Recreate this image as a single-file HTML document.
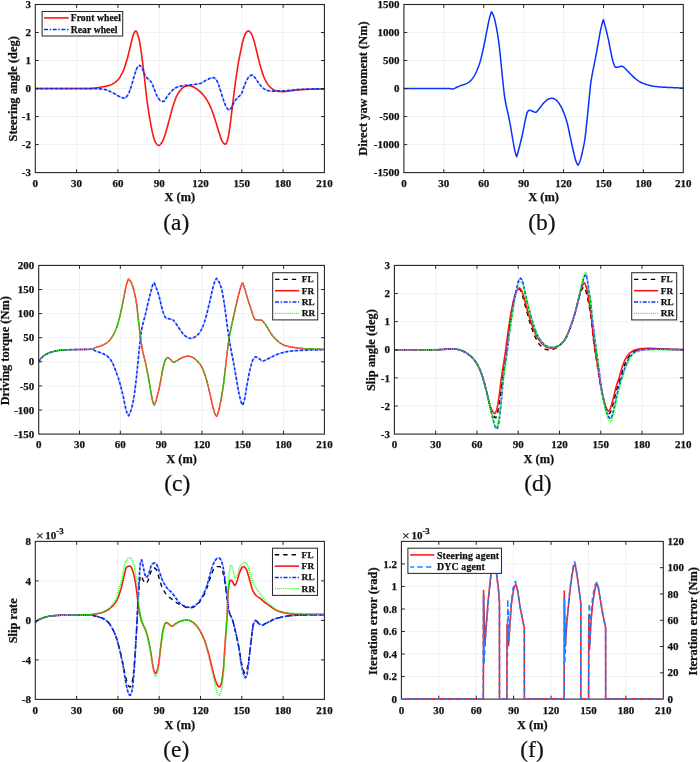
<!DOCTYPE html>
<html lang="en">
<head>
<meta charset="utf-8">
<title>Simulation results: steering angle, direct yaw moment, driving torque, slip angle, slip rate, iteration error</title>
<style>
html,body{margin:0;padding:0;background:#fff;}
body{width:700px;height:762px;overflow:hidden;}
svg{display:block;font-family:"Liberation Serif",serif;}
text{fill:#111;}
</style>
</head>
<body>
<svg width="700" height="762" viewBox="0 0 700 762">
<rect width="700" height="762" fill="#fff"/>
<path d="M76.6 4.5V172.6M117.9 4.5V172.6M159.2 4.5V172.6M200.5 4.5V172.6M241.8 4.5V172.6M283.1 4.5V172.6M35.3 144.58H324.4M35.3 116.57H324.4M35.3 88.55H324.4M35.3 60.53H324.4M35.3 32.52H324.4" stroke="#e8eded" stroke-width="0.7" fill="none"/>
<path d="M35.3 88.55L87.61 88.55L88.16 88.55L88.71 88.53L89.27 88.51L89.82 88.49L90.37 88.46L90.92 88.43L91.47 88.39L92.02 88.35L92.57 88.31L93.12 88.27L93.67 88.23L94.22 88.17L94.77 88.11L95.32 88.05L95.87 87.98L96.42 87.9L96.97 87.82L97.53 87.73L98.08 87.65L98.63 87.55L99.18 87.46L99.73 87.37L100.28 87.27L100.83 87.17L101.38 87.08L101.93 86.98L102.48 86.89L103.03 86.79L103.58 86.69L104.13 86.59L104.68 86.48L105.23 86.37L105.79 86.26L106.34 86.14L106.89 86.01L107.44 85.87L107.99 85.73L108.54 85.58L109.09 85.42L109.64 85.25L110.19 85.07L110.74 84.87L111.29 84.64L111.84 84.39L112.39 84.11L112.94 83.8L113.49 83.46L114.05 83.1L114.6 82.71L115.15 82.3L115.7 81.86L116.25 81.4L116.8 80.92L117.35 80.42L117.9 79.87L118.45 79.23L119 78.52L119.55 77.73L120.1 76.87L120.65 75.95L121.2 74.97L121.75 73.94L122.31 72.87L122.86 71.69L123.41 70.39L123.96 68.98L124.51 67.47L125.06 65.88L125.61 64.21L126.16 62.48L126.71 60.7L127.26 58.82L127.81 56.73L128.36 54.49L128.91 52.17L129.46 49.84L130.01 47.58L130.57 45.44L131.12 43.2L131.67 40.87L132.22 38.58L132.77 36.47L133.32 34.67L133.87 33.33L134.42 32.38L134.97 31.56L135.52 31.05L136.07 31.07L136.62 31.77L137.17 33.01L137.72 34.62L138.27 36.44L138.83 38.33L139.38 40.77L139.93 43.81L140.48 47.21L141.03 50.73L141.58 54.45L142.13 58.52L142.68 62.83L143.23 67.26L143.78 71.79L144.33 76.52L144.88 81.42L145.43 86.61L145.98 91.98L146.53 96.7L147.09 100.98L147.64 104.97L148.19 108.72L148.74 112.28L149.29 115.66L149.84 118.88L150.39 121.97L150.94 125L151.49 128L152.04 130.84L152.59 133.38L153.14 135.55L153.69 137.61L154.24 139.46L154.79 140.97L155.35 142L155.9 142.85L156.45 143.63L157 144.31L157.55 144.86L158.1 145.24L158.65 145.42L159.2 145.34L159.75 145.02L160.3 144.49L160.85 143.81L161.4 143.03L161.95 142.2L162.5 141.33L163.05 140.2L163.61 138.85L164.16 137.32L164.71 135.67L165.26 133.96L165.81 132.26L166.36 130.49L166.91 128.58L167.46 126.58L168.01 124.52L168.56 122.44L169.11 120.38L169.66 118.35L170.21 116.27L170.76 114.15L171.31 112.04L171.87 109.99L172.42 108.02L172.97 106.2L173.52 104.47L174.07 102.79L174.62 101.17L175.17 99.64L175.72 98.23L176.27 96.96L176.82 95.84L177.37 94.78L177.92 93.8L178.47 92.89L179.02 92.05L179.57 91.3L180.13 90.63L180.68 89.98L181.23 89.35L181.78 88.74L182.33 88.18L182.88 87.67L183.43 87.23L183.98 86.88L184.53 86.63L185.08 86.47L185.63 86.31L186.18 86.17L186.73 86.05L187.28 85.94L187.83 85.86L188.39 85.79L188.94 85.76L189.49 85.75L190.04 85.8L190.59 85.91L191.14 86.08L191.69 86.28L192.24 86.51L192.79 86.77L193.34 87.03L193.89 87.3L194.44 87.56L194.99 87.85L195.54 88.17L196.09 88.52L196.65 88.9L197.2 89.3L197.75 89.72L198.3 90.16L198.85 90.62L199.4 91.09L199.95 91.58L200.5 92.08L201.05 92.6L201.6 93.15L202.15 93.73L202.7 94.34L203.25 94.98L203.8 95.65L204.35 96.36L204.91 97.09L205.46 97.85L206.01 98.64L206.56 99.47L207.11 100.35L207.66 101.28L208.21 102.27L208.76 103.31L209.31 104.39L209.86 105.53L210.41 106.71L210.96 107.95L211.51 109.29L212.06 110.73L212.61 112.25L213.17 113.83L213.72 115.47L214.27 117.13L214.82 118.81L215.37 120.49L215.92 122.23L216.47 124.06L217.02 125.94L217.57 127.83L218.12 129.67L218.67 131.43L219.22 133.08L219.77 134.79L220.32 136.5L220.87 138.14L221.43 139.62L221.98 140.86L222.53 141.78L223.08 142.51L223.63 143.2L224.18 143.77L224.73 144.16L225.28 144.3L225.83 143.96L226.38 143.03L226.93 141.69L227.48 140.1L228.03 138.27L228.58 135.5L229.13 132.01L229.69 128.16L230.24 124.28L230.79 120.07L231.34 115.49L231.89 110.79L232.44 106.2L232.99 101.71L233.54 97.21L234.09 92.77L234.64 88.47L235.19 84.33L235.74 80.22L236.29 76.21L236.84 72.35L237.39 68.7L237.95 65.32L238.5 62.15L239.05 59.15L239.6 56.3L240.15 53.56L240.7 50.91L241.25 48.3L241.8 45.65L242.35 43.06L242.9 40.69L243.45 38.67L244 37.09L244.55 35.64L245.1 34.33L245.65 33.22L246.21 32.38L246.76 31.85L247.31 31.45L247.86 31.14L248.41 30.98L248.96 31.07L249.51 31.45L250.06 32.03L250.61 32.72L251.16 33.48L251.71 34.51L252.26 35.79L252.81 37.27L253.36 38.85L253.91 40.5L254.47 42.38L255.02 44.49L255.57 46.74L256.12 49.04L256.67 51.3L257.22 53.5L257.77 55.76L258.32 58.05L258.87 60.33L259.42 62.54L259.97 64.65L260.52 66.62L261.07 68.51L261.62 70.36L262.17 72.14L262.73 73.82L263.28 75.38L263.83 76.78L264.38 78.07L264.93 79.29L265.48 80.44L266.03 81.51L266.58 82.49L267.13 83.38L267.68 84.18L268.23 84.92L268.78 85.6L269.33 86.24L269.88 86.83L270.43 87.36L270.99 87.85L271.54 88.31L272.09 88.75L272.64 89.16L273.19 89.53L273.74 89.86L274.29 90.12L274.84 90.33L275.39 90.51L275.94 90.68L276.49 90.83L277.04 90.97L277.59 91.09L278.14 91.2L278.69 91.28L279.25 91.35L279.8 91.41L280.35 91.47L280.9 91.52L281.45 91.57L282 91.6L282.55 91.62L283.1 91.63L283.65 91.62L284.2 91.59L284.75 91.55L285.3 91.49L285.85 91.43L286.4 91.35L286.95 91.28L287.51 91.21L288.06 91.14L288.61 91.07L289.16 91.01L289.71 90.95L290.26 90.88L290.81 90.81L291.36 90.74L291.91 90.67L292.46 90.6L293.01 90.53L293.56 90.46L294.11 90.39L294.66 90.32L295.21 90.26L295.77 90.19L296.32 90.13L296.87 90.07L297.42 90.02L297.97 89.97L298.52 89.93L299.07 89.89L299.62 89.84L300.17 89.8L300.72 89.76L301.27 89.72L301.82 89.68L302.37 89.64L302.92 89.61L303.47 89.57L304.03 89.54L304.58 89.5L305.13 89.47L305.68 89.44L306.23 89.41L306.78 89.38L307.33 89.36L307.88 89.33L308.43 89.31L308.98 89.29L309.53 89.27L310.08 89.25L310.63 89.23L311.18 89.22L311.73 89.2L312.29 89.19L312.84 89.17L313.39 89.15L313.94 89.14L314.49 89.12L315.04 89.11L315.59 89.1L316.14 89.08L316.69 89.07L317.24 89.06L317.79 89.05L318.34 89.03L318.89 89.02L319.44 89.01L319.99 89.01L320.55 89L321.1 88.99L321.65 88.98L322.2 88.98L324.4 88.97" stroke="#ff1414" stroke-width="1.6" fill="none" stroke-linejoin="round"/>
<path d="M35.3 88.55L91.47 88.55L92.02 88.56L92.57 88.57L93.12 88.58L93.67 88.59L94.22 88.6L94.77 88.61L95.32 88.63L95.87 88.65L96.42 88.66L96.97 88.68L97.53 88.7L98.08 88.73L98.63 88.76L99.18 88.8L99.73 88.84L100.28 88.89L100.83 88.95L101.38 89.01L101.93 89.08L102.48 89.15L103.03 89.23L103.58 89.31L104.13 89.4L104.68 89.5L105.23 89.59L105.79 89.7L106.34 89.83L106.89 89.99L107.44 90.19L107.99 90.41L108.54 90.65L109.09 90.92L109.64 91.19L110.19 91.47L110.74 91.76L111.29 92.05L111.84 92.34L112.39 92.62L112.94 92.89L113.49 93.18L114.05 93.48L114.6 93.8L115.15 94.13L115.7 94.46L116.25 94.79L116.8 95.12L117.35 95.44L117.9 95.74L118.45 96.04L119 96.31L119.55 96.56L120.1 96.79L120.65 97.03L121.2 97.27L121.75 97.51L122.31 97.74L122.86 97.93L123.41 98.08L123.96 98.18L124.51 98.22L125.06 98.08L125.61 97.72L126.16 97.16L126.71 96.47L127.26 95.68L127.81 94.85L128.36 93.98L128.91 92.86L129.46 91.51L130.01 90L130.57 88.37L131.12 86.69L131.67 85.02L132.22 83.26L132.77 81.32L133.32 79.29L133.87 77.26L134.42 75.32L134.97 73.55L135.52 71.92L136.07 70.28L136.62 68.8L137.17 67.65L137.72 66.94L138.27 66.35L138.83 65.86L139.38 65.53L139.93 65.41L140.48 65.67L141.03 66.34L141.58 67.25L142.13 68.25L142.68 69.36L143.23 70.84L143.78 72.43L144.33 73.85L144.88 74.87L145.43 75.73L145.98 76.5L146.53 77.2L147.09 77.85L147.64 78.48L148.19 79.11L148.74 79.69L149.29 80.2L149.84 80.68L150.39 81.18L150.94 81.76L151.49 82.47L152.04 83.43L152.59 84.78L153.14 86.32L153.69 87.85L154.24 89.23L154.79 90.62L155.35 92.03L155.9 93.4L156.45 94.69L157 95.84L157.55 96.81L158.1 97.68L158.65 98.53L159.2 99.32L159.75 100.01L160.3 100.57L160.85 100.94L161.4 101.12L161.95 101.25L162.5 101.36L163.05 101.42L163.61 101.42L164.16 101.13L164.71 100.52L165.26 99.7L165.81 98.77L166.36 97.84L166.91 97L167.46 96.28L168.01 95.54L168.56 94.78L169.11 94.03L169.66 93.29L170.21 92.58L170.76 91.92L171.31 91.31L171.87 90.78L172.42 90.27L172.97 89.79L173.52 89.33L174.07 88.9L174.62 88.49L175.17 88.12L175.72 87.79L176.27 87.5L176.82 87.24L177.37 87L177.92 86.77L178.47 86.58L179.02 86.4L179.57 86.26L180.13 86.14L180.68 86.04L181.23 85.94L181.78 85.86L182.33 85.78L182.88 85.71L183.43 85.64L183.98 85.57L184.53 85.51L185.08 85.45L185.63 85.39L186.18 85.33L186.73 85.27L187.28 85.21L187.83 85.16L188.39 85.1L188.94 85.05L189.49 85L190.04 84.96L190.59 84.91L191.14 84.86L191.69 84.81L192.24 84.76L192.79 84.7L193.34 84.64L193.89 84.58L194.44 84.51L194.99 84.43L195.54 84.36L196.09 84.28L196.65 84.19L197.2 84.1L197.75 84L198.3 83.89L198.85 83.78L199.4 83.65L199.95 83.52L200.5 83.37L201.05 83.18L201.6 82.93L202.15 82.65L202.7 82.32L203.25 81.97L203.8 81.61L204.35 81.25L204.91 80.91L205.46 80.58L206.01 80.29L206.56 80.01L207.11 79.72L207.66 79.43L208.21 79.15L208.76 78.88L209.31 78.64L209.86 78.43L210.41 78.25L210.96 78.12L211.51 77.99L212.06 77.87L212.61 77.78L213.17 77.72L213.72 77.72L214.27 77.89L214.82 78.27L215.37 78.8L215.92 79.43L216.47 80.11L217.02 80.92L217.57 82.07L218.12 83.49L218.67 85.09L219.22 86.77L219.77 88.46L220.32 90.07L220.87 91.73L221.43 93.48L221.98 95.26L222.53 97.03L223.08 98.73L223.63 100.32L224.18 101.87L224.73 103.43L225.28 104.91L225.83 106.22L226.38 107.26L226.93 108.04L227.48 108.79L228.03 109.43L228.58 109.87L229.13 110.04L229.69 109.81L230.24 109.2L230.79 108.34L231.34 107.37L231.89 106.42L232.44 105.5L232.99 104.43L233.54 103.3L234.09 102.21L234.64 101.25L235.19 100.48L235.74 99.79L236.29 99.15L236.84 98.56L237.39 97.97L237.95 97.37L238.5 96.82L239.05 96.32L239.6 95.83L240.15 95.3L240.7 94.68L241.25 93.94L241.8 92.93L242.35 91.47L242.9 89.8L243.45 88.16L244 86.73L244.55 85.3L245.1 83.86L245.65 82.48L246.21 81.19L246.76 80.05L247.31 79.11L247.86 78.3L248.41 77.52L248.96 76.83L249.51 76.24L250.06 75.8L250.61 75.52L251.16 75.32L251.71 75.16L252.26 75.1L252.81 75.27L253.36 75.71L253.91 76.33L254.47 77.04L255.02 77.74L255.57 78.41L256.12 79.18L256.67 80.02L257.22 80.89L257.77 81.77L258.32 82.63L258.87 83.42L259.42 84.14L259.97 84.85L260.52 85.54L261.07 86.21L261.62 86.82L262.17 87.38L262.73 87.85L263.28 88.26L263.83 88.65L264.38 89.01L264.93 89.33L265.48 89.61L266.03 89.85L266.58 90.05L267.13 90.24L267.68 90.42L268.23 90.6L268.78 90.75L269.33 90.88L269.88 90.98L270.43 91.05L270.99 91.07L277.59 91.07L278.14 91.06L278.69 91.05L279.25 91.04L279.8 91.02L280.35 91.01L280.9 90.99L281.45 90.97L282 90.95L282.55 90.93L283.1 90.9L283.65 90.88L284.2 90.85L284.75 90.81L285.3 90.77L285.85 90.72L286.4 90.67L286.95 90.62L287.51 90.56L288.06 90.5L288.61 90.44L289.16 90.38L289.71 90.32L290.26 90.26L290.81 90.2L291.36 90.14L291.91 90.09L292.46 90.04L293.01 89.99L293.56 89.94L294.11 89.89L294.66 89.85L295.21 89.8L295.77 89.75L296.32 89.7L296.87 89.65L297.42 89.61L297.97 89.56L298.52 89.52L299.07 89.47L299.62 89.43L300.17 89.39L300.72 89.36L301.27 89.32L301.82 89.3L302.37 89.27L302.92 89.25L303.47 89.23L304.03 89.21L304.58 89.2L305.13 89.18L305.68 89.16L306.23 89.14L306.78 89.13L307.33 89.11L307.88 89.1L308.43 89.08L308.98 89.06L309.53 89.05L310.08 89.04L310.63 89.02L311.18 89.01L311.73 88.99L312.29 88.98L312.84 88.97L313.39 88.96L313.94 88.94L314.49 88.93L315.04 88.92L315.59 88.91L316.14 88.9L316.69 88.89L317.24 88.89L317.79 88.88L318.34 88.87L318.89 88.86L319.44 88.86L319.99 88.85L320.55 88.85L321.1 88.84L324.4 88.83" stroke="#0a32ff" stroke-width="1.7" fill="none" stroke-linejoin="round" stroke-dasharray="3.1 0.7 0.4 0.7"/>
<path d="M76.6 172.6v-3.4M76.6 4.5v3.4M117.9 172.6v-3.4M117.9 4.5v3.4M159.2 172.6v-3.4M159.2 4.5v3.4M200.5 172.6v-3.4M200.5 4.5v3.4M241.8 172.6v-3.4M241.8 4.5v3.4M283.1 172.6v-3.4M283.1 4.5v3.4M35.3 144.58h3.4M324.4 144.58h-3.4M35.3 116.57h3.4M324.4 116.57h-3.4M35.3 88.55h3.4M324.4 88.55h-3.4M35.3 60.53h3.4M324.4 60.53h-3.4M35.3 32.52h3.4M324.4 32.52h-3.4" stroke="#262626" stroke-width="1" fill="none"/>
<rect x="35.3" y="4.5" width="289.1" height="168.1" fill="none" stroke="#262626" stroke-width="1.1"/>
<text x="35.3" y="187.2" font-size="11" text-anchor="middle" font-weight="bold" stroke="#111" stroke-width="0.25">0</text>
<text x="76.6" y="187.2" font-size="11" text-anchor="middle" font-weight="bold" stroke="#111" stroke-width="0.25">30</text>
<text x="117.9" y="187.2" font-size="11" text-anchor="middle" font-weight="bold" stroke="#111" stroke-width="0.25">60</text>
<text x="159.2" y="187.2" font-size="11" text-anchor="middle" font-weight="bold" stroke="#111" stroke-width="0.25">90</text>
<text x="200.5" y="187.2" font-size="11" text-anchor="middle" font-weight="bold" stroke="#111" stroke-width="0.25">120</text>
<text x="241.8" y="187.2" font-size="11" text-anchor="middle" font-weight="bold" stroke="#111" stroke-width="0.25">150</text>
<text x="283.1" y="187.2" font-size="11" text-anchor="middle" font-weight="bold" stroke="#111" stroke-width="0.25">180</text>
<text x="324.4" y="187.2" font-size="11" text-anchor="middle" font-weight="bold" stroke="#111" stroke-width="0.25">210</text>
<text x="30.9" y="176.23" font-size="11" text-anchor="end" font-weight="bold" stroke="#111" stroke-width="0.25">-3</text>
<text x="30.9" y="148.21" font-size="11" text-anchor="end" font-weight="bold" stroke="#111" stroke-width="0.25">-2</text>
<text x="30.9" y="120.2" font-size="11" text-anchor="end" font-weight="bold" stroke="#111" stroke-width="0.25">-1</text>
<text x="30.9" y="92.18" font-size="11" text-anchor="end" font-weight="bold" stroke="#111" stroke-width="0.25">0</text>
<text x="30.9" y="64.16" font-size="11" text-anchor="end" font-weight="bold" stroke="#111" stroke-width="0.25">1</text>
<text x="30.9" y="36.15" font-size="11" text-anchor="end" font-weight="bold" stroke="#111" stroke-width="0.25">2</text>
<text x="30.9" y="8.13" font-size="11" text-anchor="end" font-weight="bold" stroke="#111" stroke-width="0.25">3</text>
<text x="179.85" y="201.3" font-size="12.4" text-anchor="middle" font-weight="bold" stroke="#111" stroke-width="0.25">X (m)</text>
<text x="17.1" y="88.85" font-size="12.4" text-anchor="middle" font-weight="bold" stroke="#111" stroke-width="0.25" transform="rotate(-90 17.1 88.85)">Steering angle (deg)</text>
<text x="176.3" y="229.9" font-size="23.5" text-anchor="middle" stroke="#111" stroke-width="0.2">(a)</text>
<rect x="42.1" y="11.5" width="80.6" height="24.5" fill="#fff" stroke="#2c2c2c" stroke-width="1.05"/>
<path d="M44 17.9H68.7" stroke="#ff1414" stroke-width="1.6"/>
<text x="70.7" y="21.1" font-size="9.6" text-anchor="start" font-weight="bold" stroke="#111" stroke-width="0.25" letter-spacing="0.1">Front wheel</text>
<path d="M44 29.6H68.7" stroke="#0a32ff" stroke-width="1.5" stroke-dasharray="4 1.6 1.5 1.6"/>
<text x="70.7" y="32.7" font-size="9.6" text-anchor="start" font-weight="bold" stroke="#111" stroke-width="0.25" letter-spacing="0.1">Rear wheel</text>
<path d="M443.81 4.5V172.6M483.73 4.5V172.6M523.64 4.5V172.6M563.56 4.5V172.6M603.47 4.5V172.6M643.39 4.5V172.6M403.9 144.58H683.3M403.9 116.57H683.3M403.9 88.55H683.3M403.9 60.53H683.3M403.9 32.52H683.3" stroke="#e8eded" stroke-width="0.7" fill="none"/>
<path d="M403.9 88.55L449.27 88.55L449.81 88.59L450.34 88.66L450.88 88.75L451.41 88.85L451.94 88.93L452.48 88.98L453.01 88.99L453.54 88.89L454.08 88.68L454.61 88.4L455.15 88.09L455.68 87.77L456.21 87.48L456.75 87.25L457.28 87.02L457.82 86.79L458.35 86.57L458.88 86.34L459.42 86.13L459.95 85.91L460.48 85.7L461.02 85.5L461.55 85.31L462.09 85.14L462.62 84.97L463.15 84.81L463.69 84.65L464.22 84.48L464.75 84.3L465.29 84.1L465.82 83.88L466.36 83.63L466.89 83.36L467.42 83.06L467.96 82.73L468.49 82.38L469.03 82.01L469.56 81.6L470.09 81.16L470.63 80.7L471.16 80.17L471.69 79.57L472.23 78.9L472.76 78.17L473.3 77.39L473.83 76.57L474.36 75.7L474.9 74.75L475.43 73.72L475.96 72.62L476.5 71.44L477.03 70.21L477.57 68.92L478.1 67.58L478.63 66.16L479.17 64.63L479.7 63.01L480.24 61.28L480.77 59.42L481.3 57.38L481.84 55.17L482.37 52.84L482.9 50.43L483.44 47.98L483.97 45.48L484.51 42.86L485.04 40.14L485.57 37.39L486.11 34.65L486.64 31.97L487.17 29.27L487.71 26.5L488.24 23.76L488.78 21.16L489.31 18.8L489.84 16.76L490.38 14.93L490.91 13.28L491.45 11.84L491.98 12.46L492.52 13.39L493.06 14.56L493.6 15.9L494.13 17.42L494.67 19.39L495.21 21.73L495.75 24.29L496.29 26.93L496.82 29.75L497.36 32.81L497.9 36.15L498.44 39.77L498.98 43.85L499.51 48.46L500.05 53.42L500.59 58.54L501.13 63.71L501.66 69.22L502.2 74.83L502.74 80.18L503.28 85.32L503.82 90.34L504.35 94.87L504.89 98.58L505.43 101.71L505.97 104.51L506.51 107.11L507.04 109.45L507.58 111.71L508.12 114.02L508.66 116.55L509.19 119.23L509.73 122.03L510.27 124.92L510.81 127.89L511.35 131.03L511.88 134.32L512.42 137.6L512.96 140.72L513.5 143.65L514.04 146.58L514.57 149.37L515.11 151.84L515.65 153.85L516.19 155.46L516.72 156.74L517.26 154.91L517.79 153.02L518.32 151.07L518.86 149.07L519.39 147.01L519.92 144.9L520.46 142.74L520.99 140.51L521.52 138.21L522.06 135.85L522.59 133.43L523.12 130.96L523.66 128.35L524.19 125.62L524.72 122.91L525.26 120.35L525.79 117.99L526.32 115.56L526.86 113.44L527.39 112.1L527.92 111.31L528.46 110.69L528.99 110.33L529.52 110.3L530.06 110.38L530.59 110.51L531.12 110.68L531.66 110.85L532.19 111.02L532.72 111.24L533.26 111.5L533.79 111.78L534.32 112.04L534.86 112.24L535.39 112.35L535.92 112.31L536.46 112.01L536.99 111.5L537.52 110.84L538.06 110.11L538.59 109.38L539.12 108.71L539.66 108.09L540.19 107.43L540.73 106.75L541.26 106.04L541.79 105.33L542.33 104.63L542.86 103.95L543.39 103.31L543.93 102.72L544.46 102.18L544.99 101.71L545.53 101.24L546.06 100.78L546.59 100.34L547.13 99.92L547.66 99.54L548.19 99.21L548.73 98.95L549.26 98.75L549.79 98.61L550.33 98.49L550.86 98.38L551.39 98.3L551.93 98.25L552.46 98.25L552.99 98.34L553.53 98.51L554.06 98.75L554.59 99.04L555.13 99.38L555.66 99.76L556.19 100.14L556.73 100.55L557.26 101.05L557.79 101.67L558.33 102.37L558.86 103.14L559.39 103.96L559.93 104.8L560.46 105.68L560.99 106.62L561.53 107.65L562.06 108.74L562.59 109.9L563.13 111.11L563.66 112.39L564.19 113.73L564.73 115.15L565.26 116.65L565.79 118.25L566.33 119.95L566.86 121.76L567.39 123.7L567.93 125.9L568.46 128.31L568.99 130.87L569.53 133.5L570.06 136.11L570.59 138.64L571.13 141.06L571.66 143.52L572.19 145.97L572.73 148.4L573.26 150.75L573.79 152.99L574.33 155.1L574.86 157.2L575.39 159.25L575.93 161.1L576.46 162.6L576.99 163.71L577.53 164.62L578.06 165.26L578.6 164.38L579.14 163.26L579.67 161.95L580.21 160.49L580.75 158.76L581.29 156.72L581.82 154.46L582.36 152.08L582.9 149.65L583.44 147.14L583.98 144.42L584.51 141.39L585.05 137.9L585.59 133.64L586.13 128.79L586.66 123.62L587.2 118.43L587.74 113.14L588.28 107.6L588.82 102.06L589.35 96.67L589.89 91.14L590.43 85.95L590.97 81.7L591.51 78.28L592.04 75.27L592.58 72.38L593.12 69.66L593.66 67.08L594.19 64.53L594.73 61.89L595.27 59.1L595.81 56.23L596.35 53.31L596.88 50.36L597.42 47.41L597.96 44.49L598.5 41.48L599.04 38.38L599.57 35.32L600.11 32.39L600.65 29.7L601.19 27.33L601.72 25.15L602.26 23.13L602.8 21.28L603.34 19.63L603.87 21.46L604.4 23.36L604.94 25.33L605.47 27.35L606 29.44L606.54 31.58L607.07 33.79L607.6 36.06L608.14 38.41L608.67 40.86L609.2 43.51L609.74 46.31L610.27 49.14L610.8 51.87L611.33 54.37L611.87 56.76L612.4 59.12L612.93 61.28L613.47 63.09L614 64.52L614.53 65.87L615.07 66.92L615.6 67.31L616.13 67.3L616.67 67.27L617.2 67.22L617.73 67.17L618.26 67.1L618.8 67L619.33 66.81L619.86 66.58L620.4 66.36L620.93 66.2L621.46 66.14L622 66.24L622.53 66.48L623.06 66.8L623.6 67.16L624.13 67.52L624.66 67.96L625.19 68.47L625.73 69.03L626.26 69.61L626.79 70.19L627.33 70.75L627.86 71.29L628.39 71.83L628.93 72.38L629.46 72.93L629.99 73.48L630.53 74.02L631.06 74.56L631.59 75.08L632.12 75.6L632.66 76.1L633.19 76.61L633.72 77.12L634.26 77.61L634.79 78.1L635.32 78.57L635.86 79.02L636.39 79.45L636.92 79.85L637.46 80.23L637.99 80.6L638.52 80.95L639.05 81.3L639.59 81.62L640.12 81.93L640.65 82.23L641.19 82.5L641.72 82.76L642.25 83L642.79 83.24L643.32 83.46L643.85 83.67L644.39 83.87L644.92 84.06L645.45 84.24L645.98 84.42L646.52 84.58L647.05 84.73L647.58 84.89L648.12 85.04L648.65 85.18L649.18 85.33L649.72 85.46L650.25 85.59L650.78 85.71L651.32 85.83L651.85 85.94L652.38 86.04L652.91 86.13L653.45 86.21L653.98 86.28L654.51 86.36L655.05 86.42L655.58 86.49L656.11 86.55L656.65 86.62L657.18 86.67L657.71 86.73L658.25 86.78L658.78 86.83L659.31 86.88L659.84 86.93L660.38 86.97L660.91 87.01L661.44 87.06L661.98 87.09L662.51 87.13L663.04 87.16L663.58 87.2L664.11 87.23L664.64 87.26L665.18 87.28L665.71 87.31L666.24 87.34L666.77 87.36L667.31 87.38L667.84 87.41L668.37 87.43L668.91 87.45L669.44 87.48L669.97 87.5L670.51 87.52L671.04 87.54L671.57 87.57L672.11 87.59L672.64 87.62L673.17 87.64L673.7 87.66L674.24 87.69L674.77 87.71L675.3 87.74L675.84 87.76L676.37 87.79L676.9 87.81L677.44 87.84L677.97 87.86L678.5 87.89L679.04 87.91L679.57 87.93L680.1 87.96L680.63 87.98L681.17 88.01L681.7 88.03L682.23 88.05L682.77 88.08L683.3 88.1" stroke="#0a32ff" stroke-width="1.5" fill="none" stroke-linejoin="round"/>
<path d="M443.81 172.6v-3.4M443.81 4.5v3.4M483.73 172.6v-3.4M483.73 4.5v3.4M523.64 172.6v-3.4M523.64 4.5v3.4M563.56 172.6v-3.4M563.56 4.5v3.4M603.47 172.6v-3.4M603.47 4.5v3.4M643.39 172.6v-3.4M643.39 4.5v3.4M403.9 144.58h3.4M683.3 144.58h-3.4M403.9 116.57h3.4M683.3 116.57h-3.4M403.9 88.55h3.4M683.3 88.55h-3.4M403.9 60.53h3.4M683.3 60.53h-3.4M403.9 32.52h3.4M683.3 32.52h-3.4" stroke="#262626" stroke-width="1" fill="none"/>
<rect x="403.9" y="4.5" width="279.4" height="168.1" fill="none" stroke="#262626" stroke-width="1.1"/>
<text x="403.9" y="187.2" font-size="11" text-anchor="middle" font-weight="bold" stroke="#111" stroke-width="0.25">0</text>
<text x="443.81" y="187.2" font-size="11" text-anchor="middle" font-weight="bold" stroke="#111" stroke-width="0.25">30</text>
<text x="483.73" y="187.2" font-size="11" text-anchor="middle" font-weight="bold" stroke="#111" stroke-width="0.25">60</text>
<text x="523.64" y="187.2" font-size="11" text-anchor="middle" font-weight="bold" stroke="#111" stroke-width="0.25">90</text>
<text x="563.56" y="187.2" font-size="11" text-anchor="middle" font-weight="bold" stroke="#111" stroke-width="0.25">120</text>
<text x="603.47" y="187.2" font-size="11" text-anchor="middle" font-weight="bold" stroke="#111" stroke-width="0.25">150</text>
<text x="643.39" y="187.2" font-size="11" text-anchor="middle" font-weight="bold" stroke="#111" stroke-width="0.25">180</text>
<text x="683.3" y="187.2" font-size="11" text-anchor="middle" font-weight="bold" stroke="#111" stroke-width="0.25">210</text>
<text x="399.5" y="176.23" font-size="11" text-anchor="end" font-weight="bold" stroke="#111" stroke-width="0.25">-1500</text>
<text x="399.5" y="148.21" font-size="11" text-anchor="end" font-weight="bold" stroke="#111" stroke-width="0.25">-1000</text>
<text x="399.5" y="120.2" font-size="11" text-anchor="end" font-weight="bold" stroke="#111" stroke-width="0.25">-500</text>
<text x="399.5" y="92.18" font-size="11" text-anchor="end" font-weight="bold" stroke="#111" stroke-width="0.25">0</text>
<text x="399.5" y="64.16" font-size="11" text-anchor="end" font-weight="bold" stroke="#111" stroke-width="0.25">500</text>
<text x="399.5" y="36.15" font-size="11" text-anchor="end" font-weight="bold" stroke="#111" stroke-width="0.25">1000</text>
<text x="399.5" y="8.13" font-size="11" text-anchor="end" font-weight="bold" stroke="#111" stroke-width="0.25">1500</text>
<text x="543.6" y="201.3" font-size="12.4" text-anchor="middle" font-weight="bold" stroke="#111" stroke-width="0.25">X (m)</text>
<text x="367.3" y="88.55" font-size="12.4" text-anchor="middle" font-weight="bold" stroke="#111" stroke-width="0.25" transform="rotate(-90 367.3 88.55)">Direct yaw moment (Nm)</text>
<text x="542" y="229.9" font-size="23.5" text-anchor="middle" stroke="#111" stroke-width="0.2">(b)</text>
<path d="M79.51 265.4V434.1M120.33 265.4V434.1M161.14 265.4V434.1M201.96 265.4V434.1M242.77 265.4V434.1M283.59 265.4V434.1M38.7 410H324.4M38.7 385.9H324.4M38.7 361.8H324.4M38.7 337.7H324.4M38.7 313.6H324.4M38.7 289.5H324.4" stroke="#e8eded" stroke-width="0.7" fill="none"/>
<path d="M38.7 361.8L39.24 360.91L39.79 360.07L40.33 359.27L40.88 358.54L41.42 357.89L41.97 357.33L42.51 356.83L43.05 356.36L43.6 355.92L44.14 355.51L44.69 355.14L45.23 354.78L45.77 354.46L46.32 354.16L46.86 353.88L47.41 353.62L47.95 353.37L48.5 353.13L49.04 352.91L49.58 352.71L50.13 352.51L50.67 352.33L51.22 352.16L51.76 351.99L52.3 351.83L52.85 351.67L53.39 351.52L53.94 351.36L54.48 351.22L55.03 351.08L55.57 350.95L56.11 350.84L56.66 350.73L57.2 350.63L57.75 350.54L58.29 350.47L58.84 350.41L59.38 350.35L59.92 350.29L60.47 350.24L61.01 350.18L61.56 350.13L62.1 350.09L62.64 350.04L63.19 350L63.73 349.96L64.28 349.92L64.82 349.89L65.37 349.86L65.91 349.83L66.45 349.8L67 349.78L67.54 349.76L68.09 349.74L68.63 349.72L69.17 349.71L69.72 349.69L70.26 349.68L70.81 349.67L71.35 349.66L71.9 349.64L72.44 349.63L72.98 349.62L73.53 349.61L74.07 349.6L74.62 349.59L75.16 349.59L75.7 349.58L76.25 349.57L76.79 349.56L77.34 349.55L77.88 349.54L78.43 349.53L78.97 349.52L79.51 349.51L80.06 349.5L80.6 349.49L81.15 349.48L81.69 349.47L82.24 349.47L82.78 349.46L83.32 349.45L83.87 349.44L84.41 349.44L84.96 349.43L85.5 349.42L86.04 349.41L86.59 349.41L87.13 349.4L87.68 349.38L88.22 349.37L88.77 349.36L89.31 349.34L89.85 349.33L90.4 349.31L90.94 349.29L91.49 349.26L92.03 349.17L92.57 349L93.12 348.78L93.66 348.52L94.21 348.24L94.75 347.95L95.3 347.68L95.84 347.44L96.38 347.25L96.93 347.08L97.47 346.92L98.02 346.77L98.56 346.62L99.11 346.47L99.65 346.31L100.19 346.13L100.74 345.94L101.28 345.73L101.83 345.51L102.37 345.26L102.91 345L103.46 344.72L104 344.43L104.55 344.13L105.09 343.81L105.64 343.48L106.18 343.14L106.72 342.78L107.27 342.4L107.81 341.99L108.36 341.54L108.9 341.05L109.44 340.5L109.99 339.87L110.53 339.16L111.08 338.38L111.62 337.55L112.17 336.67L112.71 335.77L113.25 334.84L113.8 333.86L114.34 332.81L114.89 331.7L115.43 330.5L115.98 329.22L116.52 327.83L117.06 326.28L117.61 324.58L118.15 322.75L118.7 320.81L119.24 318.78L119.78 316.68L120.33 314.45L120.87 312.02L121.42 309.45L121.96 306.79L122.51 304.1L123.05 301.42L123.59 298.76L124.14 295.91L124.68 292.98L125.23 290.12L125.77 287.47L126.31 285.18L126.86 283.29L127.4 281.6L127.95 280.12L128.49 278.9L129.04 279.3L129.59 279.92L130.14 280.69L130.69 281.59L131.24 282.58L131.79 283.82L132.34 285.32L132.89 287.04L133.44 288.92L133.99 290.92L134.54 293.08L135.09 295.51L135.64 298.25L136.19 301.34L136.74 305.04L137.29 309.72L137.84 314.85L138.39 319.82L138.94 324.79L139.49 329.73L140.04 334.34L140.59 338.64L141.14 342.41L141.69 345.74L142.24 348.78L142.79 351.57L143.34 354.1L143.89 356.37L144.44 358.49L144.99 360.63L145.54 362.9L146.09 365.43L146.64 368.15L147.19 371L147.74 373.94L148.29 376.92L148.84 380.04L149.39 383.24L149.94 386.44L150.49 389.53L151.04 392.67L151.59 395.91L152.14 398.91L152.69 401.3L153.24 402.96L153.79 404.3L154.34 405.18L154.89 403.83L155.43 402.32L155.98 400.68L156.53 398.91L157.07 396.97L157.62 394.87L158.17 392.62L158.71 390.27L159.26 387.78L159.81 385.09L160.35 382.28L160.9 379.44L161.45 376.58L161.99 373.5L162.54 370.43L163.09 367.67L163.63 365.49L164.18 363.57L164.73 361.85L165.27 360.4L165.82 359.33L166.37 358.54L166.91 357.88L167.46 357.56L168 357.64L168.55 357.91L169.1 358.32L169.64 358.8L170.19 359.29L170.74 359.74L171.28 360.26L171.83 360.89L172.38 361.5L172.92 361.99L173.47 362.26L174.02 362.25L174.56 362.1L175.11 361.85L175.66 361.55L176.2 361.24L176.75 360.95L177.3 360.61L177.84 360.22L178.39 359.82L178.94 359.42L179.48 359.05L180.03 358.73L180.58 358.45L181.12 358.19L181.67 357.94L182.22 357.7L182.76 357.47L183.31 357.27L183.86 357.08L184.4 356.91L184.95 356.76L185.5 356.61L186.04 356.46L186.59 356.32L187.14 356.21L187.68 356.14L188.23 356.11L188.77 356.14L189.32 356.22L189.87 356.35L190.41 356.51L190.96 356.7L191.51 356.92L192.05 357.15L192.6 357.39L193.15 357.64L193.69 357.94L194.24 358.3L194.79 358.71L195.33 359.17L195.88 359.67L196.43 360.2L196.97 360.76L197.52 361.33L198.07 361.91L198.61 362.53L199.16 363.2L199.71 363.92L200.25 364.69L200.8 365.52L201.35 366.41L201.89 367.37L202.44 368.43L202.99 369.62L203.53 370.95L204.08 372.38L204.63 373.9L205.17 375.51L205.72 377.18L206.27 378.93L206.81 380.85L207.36 382.94L207.91 385.15L208.45 387.43L209 389.74L209.54 392.04L210.09 394.38L210.64 396.86L211.18 399.38L211.73 401.88L212.28 404.29L212.82 406.51L213.37 408.53L213.92 410.54L214.46 412.41L215.01 413.97L215.56 415.03L216.1 415.8L216.65 416.27L217.2 415.14L217.76 413.7L218.31 412.02L218.86 410.09L219.41 407.71L219.97 405.02L220.52 402.19L221.07 399.31L221.63 396.29L222.18 393.08L222.73 389.62L223.28 385.84L223.84 381.57L224.39 376.94L224.94 372.18L225.5 367.46L226.05 362.62L226.6 357.73L227.15 353.03L227.71 348.58L228.26 344.24L228.81 340.23L229.37 336.75L229.92 333.71L230.47 330.94L231.03 328.3L231.58 325.66L232.13 323.05L232.68 320.51L233.24 318.02L233.79 315.55L234.34 313.09L234.9 310.62L235.45 308.13L236 305.66L236.55 303.23L237.11 300.86L237.66 298.56L238.21 296.33L238.77 294.09L239.32 291.89L239.87 289.84L240.42 287.99L240.98 286.42L241.53 285.02L242.08 283.79L242.64 282.75L243.21 284.33L243.78 285.96L244.35 287.65L244.92 289.4L245.49 291.24L246.06 293.18L246.63 295.17L247.2 297.16L247.77 299.09L248.34 300.93L248.91 302.69L249.48 304.42L250.05 306.12L250.62 307.82L251.19 309.55L251.76 311.35L252.33 313.16L252.9 314.89L253.47 316.49L254.04 317.88L254.61 319.09L255.15 319.48L255.7 319.74L256.24 319.82L256.79 319.87L257.33 319.9L257.88 319.93L258.42 319.96L258.97 320L259.51 320.03L260.06 320.06L260.61 320.11L261.15 320.17L261.7 320.29L262.24 320.66L262.79 321.17L263.33 321.7L263.88 322.33L264.42 323.05L264.97 323.84L265.51 324.66L266.06 325.48L266.6 326.31L267.15 327.18L267.69 328.09L268.24 329.02L268.78 329.95L269.33 330.88L269.87 331.77L270.42 332.62L270.97 333.41L271.51 334.15L272.06 334.88L272.6 335.59L273.15 336.28L273.69 336.95L274.24 337.58L274.78 338.19L275.33 338.77L275.87 339.32L276.42 339.85L276.96 340.37L277.51 340.88L278.05 341.36L278.6 341.81L279.14 342.24L279.69 342.64L280.23 343.01L280.78 343.34L281.32 343.66L281.87 343.97L282.42 344.27L282.96 344.55L283.51 344.81L284.05 345.06L284.6 345.3L285.14 345.51L285.69 345.7L286.23 345.87L286.78 346.03L287.32 346.17L287.87 346.31L288.41 346.43L288.96 346.55L289.5 346.66L290.05 346.77L290.59 346.87L291.14 346.97L291.68 347.06L292.23 347.16L292.78 347.24L293.32 347.33L293.87 347.42L294.41 347.5L294.96 347.59L295.5 347.67L296.05 347.75L296.59 347.83L297.14 347.91L297.68 347.98L298.23 348.06L298.77 348.13L299.32 348.19L299.86 348.26L300.41 348.32L300.95 348.37L301.5 348.43L302.04 348.48L302.59 348.52L303.14 348.56L303.68 348.6L304.23 348.64L304.77 348.67L305.32 348.71L305.86 348.74L306.41 348.77L306.95 348.8L307.5 348.83L308.04 348.86L308.59 348.89L309.13 348.91L309.68 348.93L310.22 348.96L310.77 348.98L311.31 349L311.86 349.01L312.4 349.03L312.95 349.05L313.49 349.06L314.04 349.08L314.59 349.09L315.13 349.11L315.68 349.12L316.22 349.14L316.77 349.15L317.31 349.16L317.86 349.18L318.4 349.19L318.95 349.2L319.49 349.21L320.04 349.22L320.58 349.23L321.13 349.24L321.67 349.25L322.22 349.25L322.76 349.26L323.31 349.26L324.4 349.27" stroke="#000" stroke-width="0.5" fill="none" stroke-linejoin="round" stroke-dasharray="4.4 4"/>
<path d="M38.7 361.8L39.24 360.91L39.79 360.07L40.33 359.27L40.88 358.54L41.42 357.89L41.97 357.33L42.51 356.83L43.05 356.36L43.6 355.92L44.14 355.51L44.69 355.14L45.23 354.78L45.77 354.46L46.32 354.16L46.86 353.88L47.41 353.62L47.95 353.37L48.5 353.13L49.04 352.91L49.58 352.71L50.13 352.51L50.67 352.33L51.22 352.16L51.76 351.99L52.3 351.83L52.85 351.67L53.39 351.52L53.94 351.36L54.48 351.22L55.03 351.08L55.57 350.95L56.11 350.84L56.66 350.73L57.2 350.63L57.75 350.54L58.29 350.47L58.84 350.41L59.38 350.35L59.92 350.29L60.47 350.24L61.01 350.18L61.56 350.13L62.1 350.09L62.64 350.04L63.19 350L63.73 349.96L64.28 349.92L64.82 349.89L65.37 349.86L65.91 349.83L66.45 349.8L67 349.78L67.54 349.76L68.09 349.74L68.63 349.72L69.17 349.71L69.72 349.69L70.26 349.68L70.81 349.67L71.35 349.66L71.9 349.64L72.44 349.63L72.98 349.62L73.53 349.61L74.07 349.6L74.62 349.59L75.16 349.59L75.7 349.58L76.25 349.57L76.79 349.56L77.34 349.55L77.88 349.54L78.43 349.53L78.97 349.52L79.51 349.51L80.06 349.5L80.6 349.49L81.15 349.48L81.69 349.47L82.24 349.47L82.78 349.46L83.32 349.45L83.87 349.44L84.41 349.44L84.96 349.43L85.5 349.42L86.04 349.41L86.59 349.41L87.13 349.4L87.68 349.38L88.22 349.37L88.77 349.36L89.31 349.34L89.85 349.33L90.4 349.31L90.94 349.29L91.49 349.26L92.03 349.17L92.57 349L93.12 348.78L93.66 348.52L94.21 348.24L94.75 347.95L95.3 347.68L95.84 347.44L96.38 347.25L96.93 347.08L97.47 346.92L98.02 346.77L98.56 346.62L99.11 346.47L99.65 346.31L100.19 346.13L100.74 345.94L101.28 345.73L101.83 345.51L102.37 345.26L102.91 345L103.46 344.72L104 344.43L104.55 344.13L105.09 343.81L105.64 343.48L106.18 343.14L106.72 342.78L107.27 342.4L107.81 341.99L108.36 341.54L108.9 341.05L109.44 340.5L109.99 339.87L110.53 339.16L111.08 338.38L111.62 337.55L112.17 336.67L112.71 335.77L113.25 334.84L113.8 333.86L114.34 332.81L114.89 331.7L115.43 330.5L115.98 329.22L116.52 327.83L117.06 326.28L117.61 324.58L118.15 322.75L118.7 320.81L119.24 318.78L119.78 316.68L120.33 314.45L120.87 312.02L121.42 309.45L121.96 306.79L122.51 304.1L123.05 301.42L123.59 298.76L124.14 295.91L124.68 292.98L125.23 290.12L125.77 287.47L126.31 285.18L126.86 283.29L127.4 281.6L127.95 280.12L128.49 278.9L129.04 279.3L129.59 279.92L130.14 280.69L130.69 281.59L131.24 282.58L131.79 283.82L132.34 285.32L132.89 287.04L133.44 288.92L133.99 290.92L134.54 293.08L135.09 295.51L135.64 298.25L136.19 301.34L136.74 305.04L137.29 309.72L137.84 314.85L138.39 319.82L138.94 324.79L139.49 329.73L140.04 334.34L140.59 338.64L141.14 342.41L141.69 345.74L142.24 348.78L142.79 351.57L143.34 354.1L143.89 356.37L144.44 358.49L144.99 360.63L145.54 362.9L146.09 365.43L146.64 368.15L147.19 371L147.74 373.94L148.29 376.92L148.84 380.04L149.39 383.24L149.94 386.44L150.49 389.53L151.04 392.67L151.59 395.91L152.14 398.91L152.69 401.3L153.24 402.96L153.79 404.3L154.34 405.18L154.89 403.83L155.43 402.32L155.98 400.68L156.53 398.91L157.07 396.97L157.62 394.87L158.17 392.62L158.71 390.27L159.26 387.78L159.81 385.09L160.35 382.28L160.9 379.44L161.45 376.58L161.99 373.5L162.54 370.43L163.09 367.67L163.63 365.49L164.18 363.57L164.73 361.85L165.27 360.4L165.82 359.33L166.37 358.54L166.91 357.88L167.46 357.56L168 357.64L168.55 357.91L169.1 358.32L169.64 358.8L170.19 359.29L170.74 359.74L171.28 360.26L171.83 360.89L172.38 361.5L172.92 361.99L173.47 362.26L174.02 362.25L174.56 362.1L175.11 361.85L175.66 361.55L176.2 361.24L176.75 360.95L177.3 360.61L177.84 360.22L178.39 359.82L178.94 359.42L179.48 359.05L180.03 358.73L180.58 358.45L181.12 358.19L181.67 357.94L182.22 357.7L182.76 357.47L183.31 357.27L183.86 357.08L184.4 356.91L184.95 356.76L185.5 356.61L186.04 356.46L186.59 356.32L187.14 356.21L187.68 356.14L188.23 356.11L188.77 356.14L189.32 356.22L189.87 356.35L190.41 356.51L190.96 356.7L191.51 356.92L192.05 357.15L192.6 357.39L193.15 357.64L193.69 357.94L194.24 358.3L194.79 358.71L195.33 359.17L195.88 359.67L196.43 360.2L196.97 360.76L197.52 361.33L198.07 361.91L198.61 362.53L199.16 363.2L199.71 363.92L200.25 364.69L200.8 365.52L201.35 366.41L201.89 367.37L202.44 368.43L202.99 369.62L203.53 370.95L204.08 372.38L204.63 373.9L205.17 375.51L205.72 377.18L206.27 378.93L206.81 380.85L207.36 382.94L207.91 385.15L208.45 387.43L209 389.74L209.54 392.04L210.09 394.38L210.64 396.86L211.18 399.38L211.73 401.88L212.28 404.29L212.82 406.51L213.37 408.53L213.92 410.54L214.46 412.41L215.01 413.97L215.56 415.03L216.1 415.8L216.65 416.27L217.2 415.14L217.76 413.7L218.31 412.02L218.86 410.09L219.41 407.71L219.97 405.02L220.52 402.19L221.07 399.31L221.63 396.29L222.18 393.08L222.73 389.62L223.28 385.84L223.84 381.57L224.39 376.94L224.94 372.18L225.5 367.46L226.05 362.62L226.6 357.73L227.15 353.03L227.71 348.58L228.26 344.24L228.81 340.23L229.37 336.75L229.92 333.71L230.47 330.94L231.03 328.3L231.58 325.66L232.13 323.05L232.68 320.51L233.24 318.02L233.79 315.55L234.34 313.09L234.9 310.62L235.45 308.13L236 305.66L236.55 303.23L237.11 300.86L237.66 298.56L238.21 296.33L238.77 294.09L239.32 291.89L239.87 289.84L240.42 287.99L240.98 286.42L241.53 285.02L242.08 283.79L242.64 282.75L243.21 284.33L243.78 285.96L244.35 287.65L244.92 289.4L245.49 291.24L246.06 293.18L246.63 295.17L247.2 297.16L247.77 299.09L248.34 300.93L248.91 302.69L249.48 304.42L250.05 306.12L250.62 307.82L251.19 309.55L251.76 311.35L252.33 313.16L252.9 314.89L253.47 316.49L254.04 317.88L254.61 319.09L255.15 319.48L255.7 319.74L256.24 319.82L256.79 319.87L257.33 319.9L257.88 319.93L258.42 319.96L258.97 320L259.51 320.03L260.06 320.06L260.61 320.11L261.15 320.17L261.7 320.29L262.24 320.66L262.79 321.17L263.33 321.7L263.88 322.33L264.42 323.05L264.97 323.84L265.51 324.66L266.06 325.48L266.6 326.31L267.15 327.18L267.69 328.09L268.24 329.02L268.78 329.95L269.33 330.88L269.87 331.77L270.42 332.62L270.97 333.41L271.51 334.15L272.06 334.88L272.6 335.59L273.15 336.28L273.69 336.95L274.24 337.58L274.78 338.19L275.33 338.77L275.87 339.32L276.42 339.85L276.96 340.37L277.51 340.88L278.05 341.36L278.6 341.81L279.14 342.24L279.69 342.64L280.23 343.01L280.78 343.34L281.32 343.66L281.87 343.97L282.42 344.27L282.96 344.55L283.51 344.81L284.05 345.06L284.6 345.3L285.14 345.51L285.69 345.7L286.23 345.87L286.78 346.03L287.32 346.17L287.87 346.31L288.41 346.43L288.96 346.55L289.5 346.66L290.05 346.77L290.59 346.87L291.14 346.97L291.68 347.06L292.23 347.16L292.78 347.24L293.32 347.33L293.87 347.42L294.41 347.5L294.96 347.59L295.5 347.67L296.05 347.75L296.59 347.83L297.14 347.91L297.68 347.98L298.23 348.06L298.77 348.13L299.32 348.19L299.86 348.26L300.41 348.32L300.95 348.37L301.5 348.43L302.04 348.48L302.59 348.52L303.14 348.56L303.68 348.6L304.23 348.64L304.77 348.67L305.32 348.71L305.86 348.74L306.41 348.77L306.95 348.8L307.5 348.83L308.04 348.86L308.59 348.89L309.13 348.91L309.68 348.93L310.22 348.96L310.77 348.98L311.31 349L311.86 349.01L312.4 349.03L312.95 349.05L313.49 349.06L314.04 349.08L314.59 349.09L315.13 349.11L315.68 349.12L316.22 349.14L316.77 349.15L317.31 349.16L317.86 349.18L318.4 349.19L318.95 349.2L319.49 349.21L320.04 349.22L320.58 349.23L321.13 349.24L321.67 349.25L322.22 349.25L322.76 349.26L323.31 349.26L324.4 349.27" stroke="#ff1414" stroke-width="1.45" fill="none" stroke-linejoin="round"/>
<path d="M38.7 361.8L39.24 360.91L39.79 360.07L40.33 359.27L40.88 358.54L41.42 357.89L41.97 357.33L42.51 356.83L43.05 356.36L43.6 355.92L44.14 355.51L44.69 355.14L45.23 354.78L45.77 354.46L46.32 354.16L46.86 353.88L47.41 353.62L47.95 353.37L48.5 353.13L49.04 352.91L49.58 352.71L50.13 352.51L50.67 352.33L51.22 352.16L51.76 351.99L52.3 351.83L52.85 351.67L53.39 351.52L53.94 351.36L54.48 351.22L55.03 351.08L55.57 350.95L56.11 350.84L56.66 350.73L57.2 350.63L57.75 350.54L58.29 350.47L58.84 350.41L59.38 350.35L59.92 350.29L60.47 350.24L61.01 350.18L61.56 350.13L62.1 350.09L62.64 350.04L63.19 350L63.73 349.96L64.28 349.92L64.82 349.89L65.37 349.86L65.91 349.83L66.45 349.8L67 349.78L67.54 349.76L68.09 349.74L68.63 349.72L69.17 349.71L69.72 349.69L70.26 349.68L70.81 349.67L71.35 349.66L71.9 349.64L72.44 349.63L72.98 349.62L73.53 349.61L74.07 349.6L74.62 349.59L75.16 349.59L75.7 349.58L76.25 349.57L76.79 349.56L77.34 349.55L77.88 349.54L78.43 349.53L78.97 349.52L79.51 349.51L80.06 349.5L80.6 349.48L81.15 349.47L81.69 349.46L82.24 349.44L82.78 349.43L83.32 349.41L83.87 349.4L84.41 349.38L84.96 349.37L85.5 349.36L86.04 349.34L86.59 349.33L87.13 349.32L87.68 349.31L88.22 349.3L88.77 349.29L89.31 349.28L89.85 349.28L90.4 349.27L91.49 349.27L92.03 349.34L92.57 349.5L93.12 349.71L93.66 349.98L94.21 350.26L94.75 350.56L95.3 350.84L95.84 351.09L96.38 351.3L96.93 351.49L97.47 351.67L98.02 351.85L98.56 352.03L99.11 352.21L99.65 352.39L100.19 352.58L100.74 352.78L101.28 352.99L101.83 353.2L102.37 353.41L102.91 353.63L103.46 353.86L104 354.1L104.55 354.36L105.09 354.64L105.64 354.96L106.18 355.31L106.72 355.71L107.27 356.15L107.81 356.64L108.36 357.17L108.9 357.74L109.44 358.35L109.99 359.03L110.53 359.79L111.08 360.61L111.62 361.49L112.17 362.44L112.71 363.44L113.25 364.54L113.8 365.78L114.34 367.11L114.89 368.53L115.43 369.99L115.98 371.47L116.52 372.95L117.06 374.46L117.61 376L118.15 377.6L118.7 379.26L119.24 381L119.78 382.82L120.33 384.75L120.87 386.81L121.42 388.98L121.96 391.22L122.51 393.51L123.05 395.83L123.59 398.19L124.14 400.82L124.68 403.58L125.23 406.29L125.77 408.75L126.31 410.79L126.86 412.36L127.4 413.74L127.95 414.9L128.49 415.78L129.04 415L129.59 413.92L130.14 412.61L130.69 411.12L131.24 409.49L131.79 407.54L132.34 405.23L132.89 402.62L133.44 399.74L133.99 396.65L134.54 393.1L135.09 389.02L135.64 384.55L136.19 379.85L136.74 374.91L137.29 369.45L137.84 363.76L138.39 358.14L138.94 352.45L139.49 346.8L140.04 341.54L140.59 336.54L141.14 332.51L141.69 329.38L142.24 326.69L142.79 324.25L143.34 321.96L143.89 319.92L144.44 318L144.99 316.08L145.54 314.03L146.09 311.74L146.64 309.2L147.19 306.57L147.74 304L148.29 301.65L148.84 299.45L149.39 297.33L149.94 295.27L150.49 293.22L151.04 291.03L151.59 288.72L152.14 286.61L152.69 285L153.24 283.98L153.79 283.19L154.34 282.75L154.89 284.21L155.43 285.69L155.98 287.19L156.53 288.7L157.07 290.17L157.62 291.64L158.17 293.19L158.71 294.89L159.26 296.88L159.81 299.18L160.35 301.61L160.9 303.96L161.45 306.1L161.99 308.23L162.54 310.27L163.09 312.08L163.63 313.57L164.18 314.97L164.73 316.25L165.27 317.27L165.82 317.89L166.37 318.15L166.91 318.34L167.46 318.49L168 318.61L168.55 318.72L169.1 318.83L169.64 318.95L170.19 319.05L170.74 319.14L171.28 319.23L171.83 319.35L172.38 319.51L172.92 319.81L173.47 320.34L174.02 321.02L174.56 321.78L175.11 322.52L175.66 323.23L176.2 323.97L176.75 324.76L177.3 325.57L177.84 326.39L178.39 327.22L178.94 328.04L179.48 328.84L180.03 329.62L180.58 330.38L181.12 331.16L181.67 331.94L182.22 332.69L182.76 333.39L183.31 334.03L183.86 334.59L184.4 335.14L184.95 335.66L185.5 336.15L186.04 336.58L186.59 336.94L187.14 337.22L187.68 337.45L188.23 337.68L188.77 337.89L189.32 338.07L189.87 338.23L190.41 338.34L190.96 338.41L191.51 338.42L192.05 338.34L192.6 338.18L193.15 337.95L193.69 337.67L194.24 337.36L194.79 337.04L195.33 336.71L195.88 336.35L196.43 335.94L196.97 335.47L197.52 334.95L198.07 334.38L198.61 333.77L199.16 333.12L199.71 332.39L200.25 331.57L200.8 330.67L201.35 329.68L201.89 328.61L202.44 327.47L202.99 326.2L203.53 324.76L204.08 323.16L204.63 321.44L205.17 319.64L205.72 317.78L206.27 315.89L206.81 313.88L207.36 311.74L207.91 309.52L208.45 307.24L209 304.94L209.54 302.64L210.09 300.28L210.64 297.8L211.18 295.26L211.73 292.76L212.28 290.36L212.82 288.15L213.37 286.17L213.92 284.24L214.46 282.45L215.01 280.94L215.56 279.82L216.1 278.99L216.65 278.41L217.2 278.99L217.76 279.74L218.31 280.62L218.86 281.6L219.41 282.7L219.97 283.98L220.52 285.46L221.07 287.15L221.63 289.09L222.18 291.52L222.73 294.37L223.28 297.5L223.84 300.79L224.39 304.45L224.94 308.46L225.5 312.64L226.05 316.77L226.6 320.93L227.15 325.17L227.71 329.29L228.26 333.14L228.81 336.8L229.37 340.29L229.92 343.59L230.47 346.72L231.03 349.73L231.58 352.68L232.13 355.51L232.68 358.25L233.24 361.02L233.79 363.91L234.34 366.98L234.9 370.2L235.45 373.47L236 376.74L236.55 379.92L237.11 383.04L237.66 386.22L238.21 389.35L238.77 392.31L239.32 395L239.87 397.38L240.42 399.59L240.98 401.53L241.53 403.06L242.08 404.27L242.64 405.18L243.18 403.94L243.73 402.3L244.27 400.35L244.82 397.84L245.36 394.71L245.91 391.33L246.45 388.07L247 385.06L247.54 382.02L248.09 379L248.63 376.09L249.18 373.36L249.72 370.91L250.27 368.59L250.81 366.31L251.36 364.19L251.9 362.35L252.45 360.88L252.99 359.83L253.54 358.87L254.08 358.01L254.63 357.34L255.17 356.93L255.72 356.84L256.26 356.96L256.81 357.2L257.35 357.53L257.9 357.9L258.44 358.29L258.99 358.65L259.53 359.01L260.08 359.46L260.62 359.95L261.17 360.41L261.71 360.79L262.26 361.02L262.8 361.07L263.35 360.98L263.89 360.8L264.44 360.55L264.98 360.28L265.53 359.99L266.07 359.72L266.62 359.48L267.16 359.22L267.71 358.95L268.25 358.68L268.8 358.4L269.35 358.12L269.89 357.84L270.44 357.56L270.98 357.29L271.53 357.03L272.07 356.75L272.62 356.48L273.16 356.2L273.71 355.92L274.25 355.65L274.8 355.39L275.34 355.14L275.89 354.89L276.43 354.66L276.98 354.45L277.52 354.25L278.07 354.06L278.61 353.87L279.16 353.69L279.7 353.51L280.25 353.34L280.79 353.18L281.34 353.03L281.88 352.87L282.43 352.73L282.97 352.59L283.52 352.45L284.06 352.32L284.61 352.18L285.15 352.05L285.7 351.93L286.24 351.81L286.79 351.7L287.33 351.59L287.88 351.5L288.42 351.42L288.97 351.34L289.51 351.27L290.06 351.2L290.6 351.13L291.15 351.07L291.69 351.01L292.24 350.95L292.78 350.9L293.33 350.84L293.87 350.79L294.42 350.74L294.96 350.7L295.51 350.65L296.05 350.61L296.6 350.57L297.15 350.53L297.69 350.5L298.24 350.47L298.78 350.44L299.33 350.41L299.87 350.38L300.42 350.35L300.96 350.32L301.51 350.29L302.05 350.27L302.6 350.24L303.14 350.22L303.69 350.2L304.23 350.17L304.78 350.15L305.32 350.13L305.87 350.11L306.41 350.09L306.96 350.08L307.5 350.06L308.05 350.04L308.59 350.03L309.14 350.01L309.68 350L310.23 349.99L310.77 349.97L311.32 349.96L311.86 349.95L312.41 349.93L312.95 349.92L313.5 349.91L314.04 349.9L314.59 349.89L315.13 349.87L315.68 349.86L316.22 349.85L316.77 349.84L317.31 349.83L317.86 349.82L318.4 349.81L318.95 349.8L319.49 349.8L320.04 349.79L320.58 349.78L321.13 349.77L321.67 349.77L322.22 349.76L322.76 349.76L324.4 349.75" stroke="#0a32ff" stroke-width="1.7" fill="none" stroke-linejoin="round" stroke-dasharray="3.1 0.7 0.4 0.7"/>
<path d="M38.7 361.8L39.24 360.91L39.79 360.07L40.33 359.27L40.88 358.54L41.42 357.89L41.97 357.33L42.51 356.83L43.05 356.36L43.6 355.92L44.14 355.51L44.69 355.14L45.23 354.78L45.77 354.46L46.32 354.16L46.86 353.88L47.41 353.62L47.95 353.37L48.5 353.13L49.04 352.91L49.58 352.71L50.13 352.51L50.67 352.33L51.22 352.16L51.76 351.99L52.3 351.83L52.85 351.67L53.39 351.52L53.94 351.36L54.48 351.22L55.03 351.08L55.57 350.95L56.11 350.84L56.66 350.73L57.2 350.63L57.75 350.54L58.29 350.47L58.84 350.41L59.38 350.35L59.92 350.29L60.47 350.24L61.01 350.18L61.56 350.13L62.1 350.09L62.64 350.04L63.19 350L63.73 349.96L64.28 349.92L64.82 349.89L65.37 349.86L65.91 349.83L66.45 349.8L67 349.78L67.54 349.76L68.09 349.74L68.63 349.72L69.17 349.71L69.72 349.69L70.26 349.68L70.81 349.67L71.35 349.66L71.9 349.64L72.44 349.63L72.98 349.62L73.53 349.61L74.07 349.6L74.62 349.59L75.16 349.59L75.7 349.58L76.25 349.57L76.79 349.56L77.34 349.55L77.88 349.54L78.43 349.53L78.97 349.52L79.51 349.51L80.06 349.5L80.6 349.49L81.15 349.48L81.69 349.47L82.24 349.47L82.78 349.46L83.32 349.45L83.87 349.44L84.41 349.44L84.96 349.43L85.5 349.42L86.04 349.41L86.59 349.41L87.13 349.4L87.68 349.38L88.22 349.37L88.77 349.36L89.31 349.34L89.85 349.33L90.4 349.31L90.94 349.29L91.49 349.26L92.03 349.17L92.57 349L93.12 348.78L93.66 348.52L94.21 348.24L94.75 347.95L95.3 347.68L95.84 347.44L96.38 347.25L96.93 347.08L97.47 346.92L98.02 346.77L98.56 346.62L99.11 346.47L99.65 346.31L100.19 346.13L100.74 345.94L101.28 345.73L101.83 345.51L102.37 345.26L102.91 345L103.46 344.72L104 344.43L104.55 344.13L105.09 343.81L105.64 343.48L106.18 343.14L106.72 342.78L107.27 342.4L107.81 341.99L108.36 341.54L108.9 341.05L109.44 340.5L109.99 339.87L110.53 339.16L111.08 338.38L111.62 337.55L112.17 336.67L112.71 335.77L113.25 334.84L113.8 333.86L114.34 332.81L114.89 331.7L115.43 330.5L115.98 329.22L116.52 327.83L117.06 326.28L117.61 324.58L118.15 322.75L118.7 320.81L119.24 318.78L119.78 316.68L120.33 314.45L120.87 312.02L121.42 309.45L121.96 306.79L122.51 304.1L123.05 301.42L123.59 298.76L124.14 295.91L124.68 292.98L125.23 290.12L125.77 287.47L126.31 285.18L126.86 283.29L127.4 281.6L127.95 280.12L128.49 278.9L129.04 279.3L129.59 279.92L130.14 280.69L130.69 281.59L131.24 282.58L131.79 283.82L132.34 285.32L132.89 287.04L133.44 288.92L133.99 290.92L134.54 293.08L135.09 295.51L135.64 298.25L136.19 301.34L136.74 305.04L137.29 309.72L137.84 314.85L138.39 319.82L138.94 324.79L139.49 329.73L140.04 334.34L140.59 338.64L141.14 342.41L141.69 345.74L142.24 348.78L142.79 351.57L143.34 354.1L143.89 356.37L144.44 358.49L144.99 360.63L145.54 362.9L146.09 365.43L146.64 368.15L147.19 371L147.74 373.94L148.29 376.92L148.84 380.04L149.39 383.24L149.94 386.44L150.49 389.53L151.04 392.67L151.59 395.91L152.14 398.91L152.69 401.3L153.24 402.96L153.79 404.3L154.34 405.18L154.89 403.83L155.43 402.32L155.98 400.68L156.53 398.91L157.07 396.97L157.62 394.87L158.17 392.62L158.71 390.27L159.26 387.78L159.81 385.09L160.35 382.28L160.9 379.44L161.45 376.58L161.99 373.5L162.54 370.43L163.09 367.67L163.63 365.49L164.18 363.57L164.73 361.85L165.27 360.4L165.82 359.33L166.37 358.54L166.91 357.88L167.46 357.56L168 357.64L168.55 357.91L169.1 358.32L169.64 358.8L170.19 359.29L170.74 359.74L171.28 360.26L171.83 360.89L172.38 361.5L172.92 361.99L173.47 362.26L174.02 362.25L174.56 362.1L175.11 361.85L175.66 361.55L176.2 361.24L176.75 360.95L177.3 360.61L177.84 360.22L178.39 359.82L178.94 359.42L179.48 359.05L180.03 358.73L180.58 358.45L181.12 358.19L181.67 357.94L182.22 357.7L182.76 357.47L183.31 357.27L183.86 357.08L184.4 356.91L184.95 356.76L185.5 356.61L186.04 356.46L186.59 356.32L187.14 356.21L187.68 356.14L188.23 356.11L188.77 356.14L189.32 356.22L189.87 356.35L190.41 356.51L190.96 356.7L191.51 356.92L192.05 357.15L192.6 357.39L193.15 357.64L193.69 357.94L194.24 358.3L194.79 358.71L195.33 359.17L195.88 359.67L196.43 360.2L196.97 360.76L197.52 361.33L198.07 361.91L198.61 362.53L199.16 363.2L199.71 363.92L200.25 364.69L200.8 365.52L201.35 366.41L201.89 367.37L202.44 368.43L202.99 369.62L203.53 370.95L204.08 372.38L204.63 373.9L205.17 375.51L205.72 377.18L206.27 378.93L206.81 380.85L207.36 382.94L207.91 385.15L208.45 387.43L209 389.74L209.54 392.04L210.09 394.38L210.64 396.86L211.18 399.38L211.73 401.88L212.28 404.29L212.82 406.51L213.37 408.53L213.92 410.54L214.46 412.41L215.01 413.97L215.56 415.03L216.1 415.8L216.65 416.27L217.2 415.14L217.76 413.7L218.31 412.02L218.86 410.09L219.41 407.71L219.97 405.02L220.52 402.19L221.07 399.31L221.63 396.29L222.18 393.08L222.73 389.62L223.28 385.84L223.84 381.57L224.39 376.94L224.94 372.18L225.5 367.46L226.05 362.62L226.6 357.73L227.15 353.03L227.71 348.58L228.26 344.24L228.81 340.23L229.37 336.75L229.92 333.71L230.47 330.94L231.03 328.3L231.58 325.66L232.13 323.05L232.68 320.51L233.24 318.02L233.79 315.55L234.34 313.09L234.9 310.62L235.45 308.13L236 305.66L236.55 303.23L237.11 300.86L237.66 298.56L238.21 296.33L238.77 294.09L239.32 291.89L239.87 289.84L240.42 287.99L240.98 286.42L241.53 285.02L242.08 283.79L242.64 282.75L243.21 284.33L243.78 285.96L244.35 287.65L244.92 289.4L245.49 291.24L246.06 293.18L246.63 295.17L247.2 297.16L247.77 299.09L248.34 300.93L248.91 302.69L249.48 304.42L250.05 306.12L250.62 307.82L251.19 309.55L251.76 311.35L252.33 313.16L252.9 314.89L253.47 316.49L254.04 317.88L254.61 319.09L255.15 319.48L255.7 319.74L256.24 319.82L256.79 319.87L257.33 319.9L257.88 319.93L258.42 319.96L258.97 320L259.51 320.03L260.06 320.06L260.61 320.11L261.15 320.17L261.7 320.29L262.24 320.66L262.79 321.17L263.33 321.7L263.88 322.33L264.42 323.05L264.97 323.84L265.51 324.66L266.06 325.48L266.6 326.31L267.15 327.18L267.69 328.09L268.24 329.02L268.78 329.95L269.33 330.88L269.87 331.77L270.42 332.62L270.97 333.41L271.51 334.15L272.06 334.88L272.6 335.59L273.15 336.28L273.69 336.95L274.24 337.58L274.78 338.19L275.33 338.77L275.87 339.32L276.42 339.85L276.96 340.37L277.51 340.88L278.05 341.36L278.6 341.81L279.14 342.24L279.69 342.64L280.23 343.01L280.78 343.34L281.32 343.66L281.87 343.97L282.42 344.27L282.96 344.55L283.51 344.81L284.05 345.06L284.6 345.3L285.14 345.51L285.69 345.7L286.23 345.87L286.78 346.03L287.32 346.17L287.87 346.31L288.41 346.43L288.96 346.55L289.5 346.66L290.05 346.77L290.59 346.87L291.14 346.97L291.68 347.06L292.23 347.16L292.78 347.24L293.32 347.33L293.87 347.42L294.41 347.5L294.96 347.59L295.5 347.67L296.05 347.75L296.59 347.83L297.14 347.91L297.68 347.98L298.23 348.06L298.77 348.13L299.32 348.19L299.86 348.26L300.41 348.32L300.95 348.37L301.5 348.43L302.04 348.48L302.59 348.52L303.14 348.56L303.68 348.6L304.23 348.64L304.77 348.67L305.32 348.71L305.86 348.74L306.41 348.77L306.95 348.8L307.5 348.83L308.04 348.86L308.59 348.89L309.13 348.91L309.68 348.93L310.22 348.96L310.77 348.98L311.31 349L311.86 349.01L312.4 349.03L312.95 349.05L313.49 349.06L314.04 349.08L314.59 349.09L315.13 349.11L315.68 349.12L316.22 349.14L316.77 349.15L317.31 349.16L317.86 349.18L318.4 349.19L318.95 349.2L319.49 349.21L320.04 349.22L320.58 349.23L321.13 349.24L321.67 349.25L322.22 349.25L322.76 349.26L323.31 349.26L324.4 349.27" stroke="#22ff22" stroke-width="1.45" fill="none" stroke-linejoin="round" stroke-dasharray="1.05 1.05"/>
<path d="M79.51 434.1v-3.4M79.51 265.4v3.4M120.33 434.1v-3.4M120.33 265.4v3.4M161.14 434.1v-3.4M161.14 265.4v3.4M201.96 434.1v-3.4M201.96 265.4v3.4M242.77 434.1v-3.4M242.77 265.4v3.4M283.59 434.1v-3.4M283.59 265.4v3.4M38.7 410h3.4M324.4 410h-3.4M38.7 385.9h3.4M324.4 385.9h-3.4M38.7 361.8h3.4M324.4 361.8h-3.4M38.7 337.7h3.4M324.4 337.7h-3.4M38.7 313.6h3.4M324.4 313.6h-3.4M38.7 289.5h3.4M324.4 289.5h-3.4" stroke="#262626" stroke-width="1" fill="none"/>
<rect x="38.7" y="265.4" width="285.7" height="168.7" fill="none" stroke="#262626" stroke-width="1.1"/>
<text x="38.7" y="448" font-size="11" text-anchor="middle" font-weight="bold" stroke="#111" stroke-width="0.25">0</text>
<text x="79.51" y="448" font-size="11" text-anchor="middle" font-weight="bold" stroke="#111" stroke-width="0.25">30</text>
<text x="120.33" y="448" font-size="11" text-anchor="middle" font-weight="bold" stroke="#111" stroke-width="0.25">60</text>
<text x="161.14" y="448" font-size="11" text-anchor="middle" font-weight="bold" stroke="#111" stroke-width="0.25">90</text>
<text x="201.96" y="448" font-size="11" text-anchor="middle" font-weight="bold" stroke="#111" stroke-width="0.25">120</text>
<text x="242.77" y="448" font-size="11" text-anchor="middle" font-weight="bold" stroke="#111" stroke-width="0.25">150</text>
<text x="283.59" y="448" font-size="11" text-anchor="middle" font-weight="bold" stroke="#111" stroke-width="0.25">180</text>
<text x="324.4" y="448" font-size="11" text-anchor="middle" font-weight="bold" stroke="#111" stroke-width="0.25">210</text>
<text x="34.3" y="437.73" font-size="11" text-anchor="end" font-weight="bold" stroke="#111" stroke-width="0.25">-150</text>
<text x="34.3" y="413.63" font-size="11" text-anchor="end" font-weight="bold" stroke="#111" stroke-width="0.25">-100</text>
<text x="34.3" y="389.53" font-size="11" text-anchor="end" font-weight="bold" stroke="#111" stroke-width="0.25">-50</text>
<text x="34.3" y="365.43" font-size="11" text-anchor="end" font-weight="bold" stroke="#111" stroke-width="0.25">0</text>
<text x="34.3" y="341.33" font-size="11" text-anchor="end" font-weight="bold" stroke="#111" stroke-width="0.25">50</text>
<text x="34.3" y="317.23" font-size="11" text-anchor="end" font-weight="bold" stroke="#111" stroke-width="0.25">100</text>
<text x="34.3" y="293.13" font-size="11" text-anchor="end" font-weight="bold" stroke="#111" stroke-width="0.25">150</text>
<text x="34.3" y="269.03" font-size="11" text-anchor="end" font-weight="bold" stroke="#111" stroke-width="0.25">200</text>
<text x="181.55" y="462.9" font-size="12.4" text-anchor="middle" font-weight="bold" stroke="#111" stroke-width="0.25">X (m)</text>
<text x="8.6" y="350.75" font-size="12.4" text-anchor="middle" font-weight="bold" stroke="#111" stroke-width="0.25" transform="rotate(-90 8.6 350.75)">Driving torque (Nm)</text>
<text x="177.2" y="491.4" font-size="23.5" text-anchor="middle" stroke="#111" stroke-width="0.2">(c)</text>
<rect x="272.7" y="272.7" width="45" height="47.2" fill="#fff" stroke="#2c2c2c" stroke-width="1.05"/>
<path d="M275 279.4H299.2" stroke="#000" stroke-width="1.4" stroke-dasharray="4.4 4"/>
<text x="301.7" y="282.3" font-size="9.2" text-anchor="start" font-weight="bold" stroke="#111" stroke-width="0.25" letter-spacing="0.3">FL</text>
<path d="M275 290.7H299.2" stroke="#ff1414" stroke-width="1.6"/>
<text x="301.7" y="293.5" font-size="9.2" text-anchor="start" font-weight="bold" stroke="#111" stroke-width="0.25" letter-spacing="0.3">FR</text>
<path d="M275 302.1H299.2" stroke="#0a32ff" stroke-width="1.5" stroke-dasharray="4 1.6 1.5 1.6"/>
<text x="301.7" y="304.8" font-size="9.2" text-anchor="start" font-weight="bold" stroke="#111" stroke-width="0.25" letter-spacing="0.3">RL</text>
<path d="M275 313.3H299.2" stroke="#22ff22" stroke-width="1.3" stroke-dasharray="1.05 1.05"/>
<text x="301.7" y="316.2" font-size="9.2" text-anchor="start" font-weight="bold" stroke="#111" stroke-width="0.25" letter-spacing="0.3">RR</text>
<path d="M435.67 265.4V434.1M476.94 265.4V434.1M518.21 265.4V434.1M559.49 265.4V434.1M600.76 265.4V434.1M642.03 265.4V434.1M394.4 405.98H683.3M394.4 377.87H683.3M394.4 349.75H683.3M394.4 321.63H683.3M394.4 293.52H683.3" stroke="#e8eded" stroke-width="0.7" fill="none"/>
<path d="M394.4 349.75L436.22 349.75L436.77 349.74L437.32 349.73L437.87 349.71L438.42 349.69L438.97 349.66L439.52 349.63L440.07 349.6L440.62 349.57L441.17 349.53L441.72 349.49L442.27 349.46L442.83 349.42L443.38 349.38L443.93 349.35L444.48 349.31L445.03 349.28L445.58 349.24L446.13 349.21L446.68 349.19L447.23 349.16L447.78 349.13L448.33 349.1L448.88 349.07L449.43 349.04L449.98 349.02L450.53 348.99L451.08 348.96L451.63 348.94L452.18 348.93L452.73 348.91L453.28 348.91L453.83 348.91L454.38 348.93L454.93 348.98L455.48 349.05L456.03 349.13L456.58 349.23L457.13 349.33L457.68 349.45L458.23 349.57L458.78 349.69L459.33 349.81L459.88 349.96L460.43 350.13L460.98 350.32L461.53 350.53L462.09 350.76L462.64 351L463.19 351.25L463.74 351.5L464.29 351.77L464.84 352.06L465.39 352.36L465.94 352.68L466.49 353.02L467.04 353.37L467.59 353.75L468.14 354.14L468.69 354.54L469.24 354.96L469.79 355.4L470.34 355.86L470.89 356.34L471.44 356.84L471.99 357.38L472.54 357.95L473.09 358.56L473.64 359.2L474.19 359.88L474.74 360.6L475.29 361.34L475.84 362.13L476.39 362.95L476.94 363.81L477.49 364.73L478.04 365.74L478.59 366.83L479.14 368L479.69 369.25L480.24 370.56L480.79 371.93L481.35 373.37L481.9 374.91L482.45 376.58L483 378.38L483.55 380.27L484.1 382.24L484.65 384.26L485.2 386.33L485.75 388.4L486.3 390.48L486.85 392.69L487.4 395.01L487.95 397.38L488.5 399.73L489.05 401.96L489.6 404.02L490.15 405.96L490.7 407.88L491.25 409.69L491.8 411.33L492.35 412.71L492.9 413.9L493.45 415.1L494 416.2L494.55 417.09L495.1 417.65L495.65 417.76L496.2 417.04L496.75 415.59L497.3 413.68L497.85 411.61L498.4 408.98L498.95 405.49L499.5 401.54L500.05 397.55L500.61 393.43L501.16 388.98L501.71 384.43L502.26 379.98L502.81 375.83L503.36 371.89L503.91 368.07L504.46 364.3L505.01 360.48L505.56 356.56L506.11 352.44L506.66 348.09L507.21 343.6L507.76 339.08L508.31 334.64L508.86 330.4L509.41 326.4L509.96 322.46L510.51 318.6L511.06 314.9L511.61 311.44L512.16 308.3L512.71 305.43L513.26 302.61L513.81 299.94L514.36 297.51L514.91 295.44L515.46 293.83L516.01 292.63L516.56 291.49L517.11 290.47L517.66 289.62L518.21 289.03L518.76 288.75L519.31 288.87L519.87 289.42L520.42 290.27L520.97 291.3L521.52 292.41L522.07 294L522.62 296.01L523.17 298.13L523.72 300.12L524.27 302.14L524.82 304.21L525.37 306.29L525.92 308.38L526.47 310.43L527.02 312.43L527.57 314.38L528.12 316.34L528.67 318.28L529.22 320.2L529.77 322.08L530.32 323.89L530.87 325.62L531.42 327.26L531.97 328.82L532.52 330.34L533.07 331.82L533.62 333.24L534.17 334.6L534.72 335.89L535.27 337.09L535.82 338.21L536.37 339.29L536.92 340.35L537.47 341.35L538.02 342.3L538.57 343.18L539.13 343.97L539.68 344.67L540.23 345.26L540.78 345.82L541.33 346.36L541.88 346.88L542.43 347.36L542.98 347.81L543.53 348.21L544.08 348.57L544.63 348.87L545.18 349.12L545.73 349.3L546.28 349.45L546.83 349.58L547.38 349.71L547.93 349.82L548.48 349.91L549.03 349.98L549.58 350.02L550.13 350.03L550.68 349.98L551.23 349.87L551.78 349.72L552.33 349.54L552.88 349.33L553.43 349.12L553.98 348.91L554.53 348.69L555.08 348.45L555.63 348.18L556.18 347.88L556.73 347.56L557.28 347.22L557.83 346.85L558.39 346.46L558.94 346.03L559.49 345.57L560.04 345.07L560.59 344.54L561.14 343.98L561.69 343.38L562.24 342.74L562.79 342.07L563.34 341.37L563.89 340.64L564.44 339.87L564.99 339.07L565.54 338.19L566.09 337.21L566.64 336.13L567.19 334.97L567.74 333.74L568.29 332.45L568.84 331.12L569.39 329.76L569.94 328.38L570.49 326.96L571.04 325.46L571.59 323.89L572.14 322.26L572.69 320.57L573.24 318.83L573.79 317.05L574.34 315.24L574.89 313.38L575.44 311.39L575.99 309.29L576.54 307.12L577.09 304.94L577.65 302.77L578.2 300.67L578.75 298.68L579.3 296.79L579.85 294.86L580.4 293L580.95 291.37L581.5 290.14L582.05 289.16L582.6 288.25L583.15 287.53L583.7 287.11L584.25 287.18L584.8 288.06L585.35 289.53L585.9 291.25L586.45 293.02L587 295.23L587.55 297.8L588.1 300.56L588.65 303.35L589.2 306.25L589.75 309.36L590.3 312.77L590.85 316.61L591.4 321.21L591.95 326.33L592.5 331.67L593.05 336.93L593.6 341.78L594.15 345.93L594.7 349.49L595.25 352.75L595.8 355.96L596.35 359.34L596.91 362.91L597.46 366.57L598.01 370.22L598.56 373.77L599.11 377.14L599.66 380.35L600.21 383.49L600.76 386.52L601.31 389.41L601.86 392.12L602.41 394.67L602.96 397.13L603.51 399.48L604.06 401.69L604.61 403.73L605.16 405.59L605.71 407.39L606.26 409.08L606.81 410.53L607.36 411.61L607.91 412.46L608.46 413.18L609.01 413.56L609.56 413.38L610.11 412.64L610.66 411.59L611.21 410.42L611.76 408.74L612.31 406.68L612.86 404.45L613.41 402.28L613.96 400.24L614.51 398.14L615.06 395.99L615.61 393.84L616.17 391.7L616.72 389.62L617.27 387.62L617.82 385.74L618.37 384L618.92 382.37L619.47 380.8L620.02 379.21L620.57 377.57L621.12 375.78L621.67 373.86L622.22 371.9L622.77 370L623.32 368.25L623.87 366.72L624.42 365.28L624.97 363.9L625.52 362.61L626.07 361.41L626.62 360.31L627.17 359.31L627.72 358.39L628.27 357.5L628.82 356.65L629.37 355.86L629.92 355.12L630.47 354.47L631.02 353.89L631.57 353.41L632.12 352.98L632.67 352.58L633.22 352.21L633.77 351.86L634.32 351.53L634.87 351.24L635.43 350.97L635.98 350.73L636.53 350.53L637.08 350.35L637.63 350.2L638.18 350.06L638.73 349.92L639.28 349.8L639.83 349.68L640.38 349.58L640.93 349.48L641.48 349.39L642.03 349.32L642.58 349.26L643.13 349.21L643.68 349.17L644.23 349.13L644.78 349.1L645.33 349.07L645.88 349.04L646.43 349.01L646.98 348.98L647.53 348.96L648.08 348.94L648.63 348.93L649.18 348.92L649.73 348.91L651.38 348.91L651.93 348.92L652.48 348.92L653.03 348.93L653.58 348.94L654.13 348.95L654.69 348.96L655.24 348.98L655.79 348.99L656.34 349.01L656.89 349.02L657.44 349.04L657.99 349.05L658.54 349.07L659.09 349.09L659.64 349.1L660.19 349.12L660.74 349.14L661.29 349.15L661.84 349.17L662.39 349.18L662.94 349.19L663.49 349.21L664.04 349.22L664.59 349.24L665.14 349.25L665.69 349.26L666.24 349.28L666.79 349.29L667.34 349.31L667.89 349.32L668.44 349.33L668.99 349.35L669.54 349.36L670.09 349.38L670.64 349.39L671.19 349.41L671.74 349.42L672.29 349.44L672.84 349.45L673.39 349.47L673.95 349.48L674.5 349.5L675.05 349.51L675.6 349.53L676.15 349.54L676.7 349.56L677.25 349.57L677.8 349.59L678.35 349.6L678.9 349.62L679.45 349.64L680 349.65L680.55 349.67L681.1 349.68L681.65 349.7L682.2 349.72L682.75 349.73L683.3 349.75" stroke="#000" stroke-width="1.4" fill="none" stroke-linejoin="round" stroke-dasharray="4.4 4"/>
<path d="M394.4 349.75L436.22 349.75L436.77 349.74L437.32 349.73L437.87 349.71L438.42 349.69L438.97 349.66L439.52 349.63L440.07 349.6L440.62 349.57L441.17 349.53L441.72 349.49L442.27 349.46L442.83 349.42L443.38 349.38L443.93 349.35L444.48 349.31L445.03 349.28L445.58 349.24L446.13 349.21L446.68 349.19L447.23 349.16L447.78 349.13L448.33 349.1L448.88 349.07L449.43 349.04L449.98 349.02L450.53 348.99L451.08 348.96L451.63 348.94L452.18 348.93L452.73 348.91L453.28 348.91L453.83 348.91L454.38 348.93L454.93 348.98L455.48 349.05L456.03 349.13L456.58 349.23L457.13 349.33L457.68 349.45L458.23 349.57L458.78 349.69L459.33 349.81L459.88 349.96L460.43 350.13L460.98 350.32L461.53 350.53L462.09 350.76L462.64 351L463.19 351.25L463.74 351.5L464.29 351.77L464.84 352.06L465.39 352.36L465.94 352.68L466.49 353.02L467.04 353.37L467.59 353.75L468.14 354.14L468.69 354.54L469.24 354.96L469.79 355.4L470.34 355.86L470.89 356.34L471.44 356.84L471.99 357.38L472.54 357.95L473.09 358.56L473.64 359.2L474.19 359.88L474.74 360.6L475.29 361.34L475.84 362.13L476.39 362.95L476.94 363.81L477.49 364.73L478.04 365.74L478.59 366.83L479.14 368L479.69 369.25L480.24 370.56L480.79 371.93L481.35 373.37L481.9 374.91L482.45 376.58L483 378.38L483.55 380.27L484.1 382.24L484.65 384.26L485.2 386.33L485.75 388.4L486.3 390.48L486.85 392.74L487.4 395.15L487.95 397.6L488.5 399.98L489.05 402.15L489.6 404.02L490.15 405.65L490.7 407.19L491.25 408.6L491.8 409.83L492.35 410.83L492.9 411.67L493.45 412.47L494 413.13L494.55 413.52L495.1 413.45L495.65 412.54L496.2 411.03L496.75 409.25L497.3 407.19L497.85 404.38L498.4 401.07L498.95 397.55L499.5 393.61L500.05 389.12L500.61 384.43L501.16 379.93L501.71 375.92L502.26 372.2L502.81 368.65L503.36 365.2L503.91 361.75L504.46 358.22L505.01 354.53L505.56 350.62L506.11 346.54L506.66 342.38L507.21 338.21L507.76 334.14L508.31 330.24L508.86 326.56L509.41 322.93L509.96 319.36L510.51 315.91L511.06 312.65L511.61 309.64L512.16 306.92L512.71 304.31L513.26 301.78L513.81 299.39L514.36 297.23L514.91 295.35L515.46 293.83L516.01 292.61L516.56 291.42L517.11 290.31L517.66 289.34L518.21 288.58L518.76 288.07L519.31 287.89L519.87 288.12L520.42 288.71L520.97 289.53L521.52 290.47L522.07 291.55L522.62 293.04L523.17 294.81L523.72 296.71L524.27 298.58L524.82 300.46L525.37 302.47L525.92 304.57L526.47 306.7L527.02 308.82L527.57 310.91L528.12 312.91L528.67 314.78L529.22 316.6L529.77 318.38L530.32 320.13L530.87 321.82L531.42 323.46L531.97 325.04L532.52 326.54L533.07 327.96L533.62 329.36L534.17 330.73L534.72 332.05L535.27 333.31L535.82 334.51L536.37 335.62L536.92 336.63L537.47 337.55L538.02 338.42L538.57 339.25L539.13 340.05L539.68 340.81L540.23 341.53L540.78 342.2L541.33 342.83L541.88 343.41L542.43 343.94L542.98 344.41L543.53 344.87L544.08 345.31L544.63 345.75L545.18 346.16L545.73 346.54L546.28 346.89L546.83 347.21L547.38 347.47L547.93 347.68L548.48 347.84L549.03 347.94L549.58 348.04L550.13 348.13L550.68 348.21L551.23 348.27L551.78 348.32L552.33 348.34L552.88 348.34L553.43 348.27L553.98 348.15L554.53 347.98L555.08 347.77L555.63 347.53L556.18 347.26L556.73 346.97L557.28 346.66L557.83 346.36L558.39 346.05L558.94 345.71L559.49 345.33L560.04 344.91L560.59 344.45L561.14 343.96L561.69 343.42L562.24 342.85L562.79 342.25L563.34 341.6L563.89 340.92L564.44 340.21L564.99 339.45L565.54 338.65L566.09 337.7L566.64 336.6L567.19 335.38L567.74 334.07L568.29 332.69L568.84 331.27L569.39 329.82L569.94 328.38L570.49 326.93L571.04 325.41L571.59 323.85L572.14 322.23L572.69 320.56L573.24 318.84L573.79 317.07L574.34 315.25L574.89 313.37L575.44 311.36L575.99 309.25L576.54 307.06L577.09 304.83L577.65 302.57L578.2 300.33L578.75 298.13L579.3 296L579.85 293.88L580.4 291.67L580.95 289.56L581.5 287.76L582.05 286.4L582.6 285.1L583.15 283.96L583.7 283.14L584.25 282.83L584.8 283.3L585.35 284.49L585.9 286.12L586.45 287.89L587 290.05L587.55 292.83L588.1 295.95L588.65 299.14L589.2 302.32L589.75 305.68L590.3 309.28L590.85 313.2L591.4 317.73L591.95 322.93L592.5 328.47L593.05 334.02L593.6 339.29L594.15 343.94L594.7 347.8L595.25 351.18L595.8 354.37L596.35 357.61L596.91 361.1L597.46 364.7L598.01 368.34L598.56 371.95L599.11 375.45L599.66 378.8L600.21 382.14L600.76 385.42L601.31 388.54L601.86 391.43L602.41 394.05L602.96 396.51L603.51 398.83L604.06 400.98L604.61 402.95L605.16 404.72L605.71 406.4L606.26 407.92L606.81 409.16L607.36 410.07L607.91 410.86L608.46 411.3L609.01 411.09L609.56 410.23L610.11 409.08L610.66 407.81L611.21 406.12L611.76 404.15L612.31 402.06L612.86 399.99L613.41 397.9L613.96 395.65L614.51 393.34L615.06 391.03L615.61 388.79L616.17 386.7L616.72 384.83L617.27 383.15L617.82 381.57L618.37 380.02L618.92 378.42L619.47 376.68L620.02 374.75L620.57 372.69L621.12 370.64L621.67 368.69L622.22 366.98L622.77 365.41L623.32 363.9L623.87 362.46L624.42 361.13L624.97 359.91L625.52 358.83L626.07 357.89L626.62 357L627.17 356.16L627.72 355.38L628.27 354.67L628.82 354.02L629.37 353.45L629.92 352.95L630.47 352.53L631.02 352.12L631.57 351.74L632.12 351.39L632.67 351.06L633.22 350.76L633.77 350.49L634.32 350.24L634.87 350.02L635.43 349.83L635.98 349.67L636.53 349.52L637.08 349.38L637.63 349.24L638.18 349.12L638.73 349L639.28 348.9L639.83 348.81L640.38 348.73L640.93 348.67L641.48 348.63L642.03 348.59L642.58 348.55L643.13 348.52L643.68 348.49L644.23 348.46L644.78 348.44L645.33 348.41L645.88 348.39L646.43 348.38L646.98 348.36L647.53 348.35L648.08 348.35L649.18 348.35L649.73 348.35L650.28 348.36L650.83 348.38L651.38 348.4L651.93 348.42L652.48 348.44L653.03 348.47L653.58 348.5L654.13 348.53L654.69 348.56L655.24 348.59L655.79 348.62L656.34 348.65L656.89 348.68L657.44 348.71L657.99 348.74L658.54 348.77L659.09 348.79L659.64 348.82L660.19 348.85L660.74 348.88L661.29 348.91L661.84 348.94L662.39 348.98L662.94 349.01L663.49 349.04L664.04 349.07L664.59 349.11L665.14 349.14L665.69 349.17L666.24 349.2L666.79 349.22L667.34 349.25L667.89 349.27L668.44 349.29L668.99 349.31L669.54 349.32L670.09 349.33L670.64 349.34L671.19 349.35L671.74 349.36L672.29 349.37L672.84 349.38L673.39 349.38L673.95 349.39L674.5 349.4L675.05 349.41L675.6 349.42L676.15 349.42L676.7 349.43L677.25 349.43L677.8 349.44L678.35 349.45L678.9 349.45L679.45 349.45L683.3 349.47" stroke="#ff1414" stroke-width="1.6" fill="none" stroke-linejoin="round"/>
<path d="M394.4 349.75L436.22 349.75L436.77 349.74L437.32 349.73L437.87 349.71L438.42 349.69L438.97 349.66L439.52 349.63L440.07 349.6L440.62 349.57L441.17 349.53L441.72 349.49L442.27 349.46L442.83 349.42L443.38 349.38L443.93 349.35L444.48 349.31L445.03 349.28L445.58 349.24L446.13 349.21L446.68 349.19L447.23 349.16L447.78 349.13L448.33 349.1L448.88 349.07L449.43 349.04L449.98 349.02L450.53 348.99L451.08 348.96L451.63 348.94L452.18 348.93L452.73 348.91L453.28 348.91L453.83 348.91L454.38 348.93L454.93 348.98L455.48 349.05L456.03 349.13L456.58 349.23L457.13 349.33L457.68 349.45L458.23 349.57L458.78 349.69L459.33 349.81L459.88 349.96L460.43 350.13L460.98 350.32L461.53 350.53L462.09 350.76L462.64 351L463.19 351.25L463.74 351.5L464.29 351.77L464.84 352.06L465.39 352.36L465.94 352.68L466.49 353.02L467.04 353.37L467.59 353.75L468.14 354.14L468.69 354.54L469.24 354.96L469.79 355.4L470.34 355.86L470.89 356.34L471.44 356.84L471.99 357.38L472.54 357.95L473.09 358.56L473.64 359.2L474.19 359.88L474.74 360.6L475.29 361.34L475.84 362.13L476.39 362.95L476.94 363.81L477.49 364.73L478.04 365.74L478.59 366.83L479.14 368L479.69 369.25L480.24 370.56L480.79 371.93L481.35 373.37L481.9 374.9L482.45 376.57L483 378.35L483.55 380.23L484.1 382.19L484.65 384.21L485.2 386.28L485.75 388.38L486.3 390.49L486.85 392.69L487.4 394.99L487.95 397.36L488.5 399.76L489.05 402.18L489.6 404.58L490.15 407L490.7 409.48L491.25 411.97L491.8 414.38L492.35 416.68L492.9 418.89L493.45 421.13L494 423.22L494.55 424.97L495.1 426.3L495.65 427.55L496.2 428.51L496.75 428.9L497.3 428.21L497.85 426.45L498.4 424.1L498.95 421.39L499.5 417.4L500.05 412.49L500.61 407.27L501.16 401.87L501.71 395.72L502.26 389.32L502.81 383.18L503.36 377.87L503.91 373.42L504.46 369.44L505.01 365.73L505.56 362.13L506.11 358.46L506.66 354.53L507.21 350.29L507.76 345.85L508.31 341.34L508.86 336.85L509.41 332.49L509.96 328.38L510.51 324.49L511.06 320.72L511.61 317.07L512.16 313.53L512.71 310.09L513.26 306.75L513.81 303.44L514.36 300.19L514.91 297.05L515.46 294.09L516.01 291.35L516.56 288.77L517.11 286.2L517.66 283.85L518.21 281.91L518.76 280.58L519.31 279.5L519.87 278.67L520.42 278.33L520.97 278.65L521.52 279.47L522.07 280.62L522.62 281.94L523.17 283.51L523.72 285.79L524.27 288.52L524.82 291.41L525.37 294.2L525.92 296.64L526.47 298.95L527.02 301.22L527.57 303.45L528.12 305.63L528.67 307.77L529.22 309.86L529.77 311.91L530.32 313.92L530.87 315.92L531.42 317.9L531.97 319.85L532.52 321.74L533.07 323.55L533.62 325.27L534.17 326.88L534.72 328.38L535.27 329.83L535.82 331.24L536.37 332.59L536.92 333.85L537.47 335.04L538.02 336.12L538.57 337.1L539.13 338L539.68 338.89L540.23 339.74L540.78 340.55L541.33 341.31L541.88 342.02L542.43 342.68L542.98 343.26L543.53 343.77L544.08 344.2L544.63 344.57L545.18 344.93L545.73 345.28L546.28 345.62L546.83 345.94L547.38 346.24L547.93 346.52L548.48 346.76L549.03 346.97L549.58 347.15L550.13 347.29L550.68 347.37L551.23 347.41L551.78 347.4L552.33 347.36L552.88 347.28L553.43 347.19L553.98 347.08L554.53 346.97L555.08 346.85L555.63 346.72L556.18 346.56L556.73 346.39L557.28 346.19L557.83 345.97L558.39 345.73L558.94 345.46L559.49 345.15L560.04 344.79L560.59 344.37L561.14 343.91L561.69 343.39L562.24 342.84L562.79 342.24L563.34 341.6L563.89 340.92L564.44 340.2L564.99 339.45L565.54 338.65L566.09 337.7L566.64 336.6L567.19 335.39L567.74 334.07L568.29 332.69L568.84 331.27L569.39 329.82L569.94 328.38L570.49 326.93L571.04 325.41L571.59 323.85L572.14 322.23L572.69 320.56L573.24 318.84L573.79 317.07L574.34 315.25L574.89 313.38L575.44 311.41L575.99 309.36L576.54 307.24L577.09 305.06L577.65 302.84L578.2 300.59L578.75 298.32L579.3 296.05L579.85 293.74L580.4 291.31L580.95 288.85L581.5 286.45L582.05 284.2L582.6 282.08L583.15 279.96L583.7 278.07L584.25 276.65L584.8 275.52L585.35 274.64L585.9 274.46L586.45 275.79L587 278.16L587.55 281.04L588.1 285.28L588.65 289.39L589.2 292.82L589.75 296.11L590.3 299.68L590.85 303.99L591.4 309.82L591.95 315.83L592.5 320.67L593.05 324.94L593.6 329.01L594.15 333.19L594.7 337.75L595.25 342.47L595.8 346.86L596.35 350.8L596.91 354.57L597.46 358.47L598.01 362.61L598.56 366.86L599.11 371.12L599.66 375.49L600.21 379.91L600.76 383.98L601.31 387.47L601.86 390.64L602.41 393.59L602.96 396.42L603.51 399.22L604.06 401.95L604.61 404.52L605.16 406.85L605.71 408.98L606.26 411.08L606.81 413.01L607.36 414.64L607.91 415.82L608.46 416.74L609.01 417.56L609.56 418.21L610.11 418.58L610.66 418.53L611.21 417.8L611.76 416.61L612.31 415.26L612.86 413.58L613.41 411.37L613.96 408.93L614.51 406.51L615.06 403.98L615.61 401.31L616.17 398.62L616.72 396.01L617.27 393.59L617.82 391.29L618.37 389.06L618.92 386.91L619.47 384.86L620.02 382.93L620.57 381.13L621.12 379.45L621.67 377.83L622.22 376.24L622.77 374.62L623.32 372.94L623.87 371.21L624.42 369.48L624.97 367.8L625.52 366.24L626.07 364.81L626.62 363.43L627.17 362.12L627.72 360.9L628.27 359.8L628.82 358.84L629.37 357.92L629.92 357.04L630.47 356.21L631.02 355.44L631.57 354.76L632.12 354.15L632.67 353.65L633.22 353.24L633.77 352.85L634.32 352.49L634.87 352.15L635.43 351.83L635.98 351.55L636.53 351.29L637.08 351.06L637.63 350.87L638.18 350.7L638.73 350.56L639.28 350.44L639.83 350.33L640.38 350.23L640.93 350.14L641.48 350.05L642.03 349.98L642.58 349.91L643.13 349.85L643.68 349.8L644.23 349.75L644.78 349.71L645.33 349.67L645.88 349.62L646.43 349.58L646.98 349.54L647.53 349.51L648.08 349.47L648.63 349.44L649.18 349.4L649.73 349.37L650.28 349.34L650.83 349.31L651.38 349.29L651.93 349.27L652.48 349.25L653.03 349.23L653.58 349.21L654.13 349.2L654.69 349.19L655.24 349.19L656.89 349.19L657.44 349.2L657.99 349.2L658.54 349.21L659.09 349.22L659.64 349.23L660.19 349.24L660.74 349.25L661.29 349.26L661.84 349.27L662.39 349.29L662.94 349.3L663.49 349.31L664.04 349.33L664.59 349.34L665.14 349.36L665.69 349.37L666.24 349.39L666.79 349.4L667.34 349.42L667.89 349.43L668.44 349.44L668.99 349.46L669.54 349.47L670.09 349.48L670.64 349.49L671.19 349.5L671.74 349.51L672.29 349.53L672.84 349.54L673.39 349.55L673.95 349.56L674.5 349.57L675.05 349.58L675.6 349.59L676.15 349.6L676.7 349.62L677.25 349.63L677.8 349.64L678.35 349.65L678.9 349.66L679.45 349.67L680 349.68L680.55 349.69L681.1 349.71L681.65 349.72L682.2 349.73L682.75 349.74L683.3 349.75" stroke="#0a32ff" stroke-width="1.7" fill="none" stroke-linejoin="round" stroke-dasharray="3.1 0.7 0.4 0.7"/>
<path d="M394.4 349.75L436.22 349.75L436.77 349.74L437.32 349.73L437.87 349.71L438.42 349.69L438.97 349.66L439.52 349.63L440.07 349.6L440.62 349.57L441.17 349.53L441.72 349.49L442.27 349.46L442.83 349.42L443.38 349.38L443.93 349.35L444.48 349.31L445.03 349.28L445.58 349.24L446.13 349.21L446.68 349.19L447.23 349.16L447.78 349.13L448.33 349.1L448.88 349.07L449.43 349.04L449.98 349.02L450.53 348.99L451.08 348.96L451.63 348.94L452.18 348.93L452.73 348.91L453.28 348.91L453.83 348.91L454.38 348.93L454.93 348.98L455.48 349.05L456.03 349.13L456.58 349.23L457.13 349.33L457.68 349.45L458.23 349.57L458.78 349.69L459.33 349.81L459.88 349.96L460.43 350.13L460.98 350.32L461.53 350.53L462.09 350.76L462.64 351L463.19 351.25L463.74 351.5L464.29 351.77L464.84 352.06L465.39 352.36L465.94 352.68L466.49 353.02L467.04 353.37L467.59 353.75L468.14 354.14L468.69 354.54L469.24 354.96L469.79 355.4L470.34 355.86L470.89 356.34L471.44 356.84L471.99 357.38L472.54 357.95L473.09 358.56L473.64 359.2L474.19 359.88L474.74 360.6L475.29 361.34L475.84 362.13L476.39 362.95L476.94 363.81L477.49 364.73L478.04 365.74L478.59 366.83L479.14 368L479.69 369.25L480.24 370.56L480.79 371.93L481.35 373.37L481.9 374.9L482.45 376.57L483 378.35L483.55 380.23L484.1 382.19L484.65 384.21L485.2 386.28L485.75 388.38L486.3 390.49L486.85 392.69L487.4 394.99L487.95 397.36L488.5 399.76L489.05 402.18L489.6 404.58L490.15 407.01L490.7 409.52L491.25 412.03L491.8 414.45L492.35 416.7L492.9 418.83L493.45 420.96L494 422.91L494.55 424.5L495.1 425.63L495.65 426.62L496.2 427.26L496.75 427.17L497.3 425.88L497.85 423.81L498.4 421.45L498.95 418.57L499.5 414.83L500.05 410.52L500.61 405.98L501.16 400.87L501.71 394.98L502.26 388.83L502.81 382.96L503.36 377.87L503.91 373.62L504.46 369.8L505.01 366.24L505.56 362.79L506.11 359.27L506.66 355.52L507.21 351.42L507.76 347.05L508.31 342.54L508.86 338.01L509.41 333.58L509.96 329.38L510.51 325.44L511.06 321.6L511.61 317.87L512.16 314.27L512.71 310.83L513.26 307.57L513.81 304.45L514.36 301.44L514.91 298.55L515.46 295.83L516.01 293.29L516.56 290.94L517.11 288.59L517.66 286.42L518.21 284.63L518.76 283.42L519.31 282.46L519.87 281.72L520.42 281.43L520.97 281.67L521.52 282.3L522.07 283.21L522.62 284.25L523.17 285.54L523.72 287.48L524.27 289.84L524.82 292.39L525.37 294.9L525.92 297.14L526.47 299.33L527.02 301.53L527.57 303.72L528.12 305.9L528.67 308.04L529.22 310.15L529.77 312.2L530.32 314.19L530.87 316.19L531.42 318.17L531.97 320.11L532.52 322.01L533.07 323.83L533.62 325.55L534.17 327.16L534.72 328.66L535.27 330.12L535.82 331.52L536.37 332.87L536.92 334.14L537.47 335.32L538.02 336.41L538.57 337.38L539.13 338.28L539.68 339.16L540.23 340L540.78 340.81L541.33 341.56L541.88 342.27L542.43 342.92L542.98 343.5L543.53 344.02L544.08 344.45L544.63 344.83L545.18 345.2L545.73 345.56L546.28 345.91L546.83 346.24L547.38 346.56L547.93 346.84L548.48 347.1L549.03 347.32L549.58 347.5L550.13 347.65L550.68 347.74L551.23 347.78L551.78 347.77L552.33 347.71L552.88 347.62L553.43 347.51L553.98 347.38L554.53 347.25L555.08 347.12L555.63 346.98L556.18 346.83L556.73 346.66L557.28 346.46L557.83 346.25L558.39 346.01L558.94 345.74L559.49 345.42L560.04 345.05L560.59 344.61L561.14 344.12L561.69 343.58L562.24 343L562.79 342.37L563.34 341.69L563.89 340.98L564.44 340.24L564.99 339.46L565.54 338.64L566.09 337.68L566.64 336.58L567.19 335.36L567.74 334.05L568.29 332.68L568.84 331.26L569.39 329.82L569.94 328.38L570.49 326.93L571.04 325.42L571.59 323.87L572.14 322.26L572.69 320.59L573.24 318.87L573.79 317.1L574.34 315.26L574.89 313.36L575.44 311.37L575.99 309.28L576.54 307.11L577.09 304.87L577.65 302.58L578.2 300.25L578.75 297.89L579.3 295.52L579.85 293.08L580.4 290.51L580.95 287.88L581.5 285.3L582.05 282.85L582.6 280.49L583.15 278.09L583.7 275.95L584.25 274.4L584.8 273.26L585.35 272.39L585.9 272.22L586.45 273.69L587 276.33L587.55 279.56L588.1 284.39L588.65 288.89L589.2 292.47L589.75 295.81L590.3 299.38L590.85 303.72L591.4 309.55L591.95 315.55L592.5 320.38L593.05 324.66L593.6 328.73L594.15 332.91L594.7 337.46L595.25 342.19L595.8 346.58L596.35 350.52L596.91 354.29L597.46 358.19L598.01 362.32L598.56 366.56L599.11 370.84L599.66 375.27L600.21 379.77L600.76 383.95L601.31 387.57L601.86 390.88L602.41 393.98L602.96 396.99L603.51 399.96L604.06 402.86L604.61 405.62L605.16 408.19L605.71 410.6L606.26 412.98L606.81 415.21L607.36 417.15L607.91 418.64L608.46 419.87L609.01 421L609.56 421.83L610.11 422.15L610.66 421.84L611.21 421.03L611.76 419.9L612.31 418.64L612.86 416.93L613.41 414.56L613.96 411.84L614.51 409.05L615.06 406.49L615.61 404L616.17 401.48L616.72 398.98L617.27 396.53L617.82 394.17L618.37 391.89L618.92 389.65L619.47 387.47L620.02 385.37L620.57 383.4L621.12 381.56L621.67 379.85L622.22 378.22L622.77 376.62L623.32 375.02L623.87 373.38L624.42 371.69L624.97 370L625.52 368.34L626.07 366.78L626.62 365.35L627.17 363.98L627.72 362.67L628.27 361.44L628.82 360.31L629.37 359.31L629.92 358.4L630.47 357.52L631.02 356.68L631.57 355.9L632.12 355.18L632.67 354.55L633.22 354.02L633.77 353.59L634.32 353.2L634.87 352.84L635.43 352.51L635.98 352.2L636.53 351.91L637.08 351.65L637.63 351.42L638.18 351.22L638.73 351.05L639.28 350.91L639.83 350.79L640.38 350.68L640.93 350.57L641.48 350.47L642.03 350.39L642.58 350.31L643.13 350.23L643.68 350.17L644.23 350.12L644.78 350.07L645.33 350.04L645.88 350.01L646.43 349.99L646.98 349.96L647.53 349.94L648.08 349.92L648.63 349.89L649.18 349.87L649.73 349.86L650.28 349.84L650.83 349.82L651.38 349.81L651.93 349.79L652.48 349.78L653.03 349.77L653.58 349.77L654.13 349.76L654.69 349.75L683.3 349.75" stroke="#22ff22" stroke-width="1.6" fill="none" stroke-linejoin="round" stroke-dasharray="1.05 1.05"/>
<path d="M435.67 434.1v-3.4M435.67 265.4v3.4M476.94 434.1v-3.4M476.94 265.4v3.4M518.21 434.1v-3.4M518.21 265.4v3.4M559.49 434.1v-3.4M559.49 265.4v3.4M600.76 434.1v-3.4M600.76 265.4v3.4M642.03 434.1v-3.4M642.03 265.4v3.4M394.4 405.98h3.4M683.3 405.98h-3.4M394.4 377.87h3.4M683.3 377.87h-3.4M394.4 349.75h3.4M683.3 349.75h-3.4M394.4 321.63h3.4M683.3 321.63h-3.4M394.4 293.52h3.4M683.3 293.52h-3.4" stroke="#262626" stroke-width="1" fill="none"/>
<rect x="394.4" y="265.4" width="288.9" height="168.7" fill="none" stroke="#262626" stroke-width="1.1"/>
<text x="394.4" y="448" font-size="11" text-anchor="middle" font-weight="bold" stroke="#111" stroke-width="0.25">0</text>
<text x="435.67" y="448" font-size="11" text-anchor="middle" font-weight="bold" stroke="#111" stroke-width="0.25">30</text>
<text x="476.94" y="448" font-size="11" text-anchor="middle" font-weight="bold" stroke="#111" stroke-width="0.25">60</text>
<text x="518.21" y="448" font-size="11" text-anchor="middle" font-weight="bold" stroke="#111" stroke-width="0.25">90</text>
<text x="559.49" y="448" font-size="11" text-anchor="middle" font-weight="bold" stroke="#111" stroke-width="0.25">120</text>
<text x="600.76" y="448" font-size="11" text-anchor="middle" font-weight="bold" stroke="#111" stroke-width="0.25">150</text>
<text x="642.03" y="448" font-size="11" text-anchor="middle" font-weight="bold" stroke="#111" stroke-width="0.25">180</text>
<text x="683.3" y="448" font-size="11" text-anchor="middle" font-weight="bold" stroke="#111" stroke-width="0.25">210</text>
<text x="390" y="437.73" font-size="11" text-anchor="end" font-weight="bold" stroke="#111" stroke-width="0.25">-3</text>
<text x="390" y="409.61" font-size="11" text-anchor="end" font-weight="bold" stroke="#111" stroke-width="0.25">-2</text>
<text x="390" y="381.5" font-size="11" text-anchor="end" font-weight="bold" stroke="#111" stroke-width="0.25">-1</text>
<text x="390" y="353.38" font-size="11" text-anchor="end" font-weight="bold" stroke="#111" stroke-width="0.25">0</text>
<text x="390" y="325.26" font-size="11" text-anchor="end" font-weight="bold" stroke="#111" stroke-width="0.25">1</text>
<text x="390" y="297.15" font-size="11" text-anchor="end" font-weight="bold" stroke="#111" stroke-width="0.25">2</text>
<text x="390" y="269.03" font-size="11" text-anchor="end" font-weight="bold" stroke="#111" stroke-width="0.25">3</text>
<text x="538.85" y="462.6" font-size="12.4" text-anchor="middle" font-weight="bold" stroke="#111" stroke-width="0.25">X (m)</text>
<text x="375.3" y="350.15" font-size="12.4" text-anchor="middle" font-weight="bold" stroke="#111" stroke-width="0.25" transform="rotate(-90 375.3 350.15)">Slip angle (deg)</text>
<text x="538" y="491.4" font-size="23.5" text-anchor="middle" stroke="#111" stroke-width="0.2">(d)</text>
<rect x="631.7" y="272.7" width="45" height="47.2" fill="#fff" stroke="#2c2c2c" stroke-width="1.05"/>
<path d="M634 279.4H658.2" stroke="#000" stroke-width="1.4" stroke-dasharray="4.4 4"/>
<text x="660.7" y="282.3" font-size="9.2" text-anchor="start" font-weight="bold" stroke="#111" stroke-width="0.25" letter-spacing="0.3">FL</text>
<path d="M634 290.7H658.2" stroke="#ff1414" stroke-width="1.6"/>
<text x="660.7" y="293.5" font-size="9.2" text-anchor="start" font-weight="bold" stroke="#111" stroke-width="0.25" letter-spacing="0.3">FR</text>
<path d="M634 302.1H658.2" stroke="#0a32ff" stroke-width="1.5" stroke-dasharray="4 1.6 1.5 1.6"/>
<text x="660.7" y="304.8" font-size="9.2" text-anchor="start" font-weight="bold" stroke="#111" stroke-width="0.25" letter-spacing="0.3">RL</text>
<path d="M634 313.3H658.2" stroke="#22ff22" stroke-width="1.3" stroke-dasharray="1.05 1.05"/>
<text x="660.7" y="316.2" font-size="9.2" text-anchor="start" font-weight="bold" stroke="#111" stroke-width="0.25" letter-spacing="0.3">RR</text>
<path d="M76.6 541.4V699.4M117.9 541.4V699.4M159.2 541.4V699.4M200.5 541.4V699.4M241.8 541.4V699.4M283.1 541.4V699.4M35.3 659.9H324.4M35.3 620.4H324.4M35.3 580.9H324.4" stroke="#e8eded" stroke-width="0.7" fill="none"/>
<path d="M35.3 622.57L35.85 622.04L36.4 621.54L36.95 621.06L37.5 620.6L38.05 620.18L38.6 619.8L39.15 619.46L39.71 619.17L40.26 618.9L40.81 618.65L41.36 618.42L41.91 618.2L42.46 618L43.01 617.81L43.56 617.64L44.11 617.48L44.66 617.32L45.21 617.17L45.76 617.03L46.31 616.89L46.86 616.75L47.41 616.63L47.97 616.5L48.52 616.39L49.07 616.28L49.62 616.19L50.17 616.1L50.72 616.02L51.27 615.96L51.82 615.9L52.37 615.84L52.92 615.78L53.47 615.73L54.02 615.67L54.57 615.62L55.12 615.58L55.67 615.53L56.23 615.49L56.78 615.45L57.33 615.41L57.88 615.38L58.43 615.35L58.98 615.32L59.53 615.3L60.08 615.28L60.63 615.27L61.18 615.26L61.73 615.25L62.28 615.23L62.83 615.23L63.38 615.22L63.93 615.21L64.49 615.2L65.04 615.19L65.59 615.19L66.14 615.18L66.69 615.18L67.24 615.17L67.79 615.17L68.34 615.16L68.89 615.16L69.44 615.15L69.99 615.15L70.54 615.14L71.09 615.14L71.64 615.13L72.19 615.13L72.75 615.12L73.3 615.12L73.85 615.11L74.4 615.11L74.95 615.1L75.5 615.09L76.05 615.09L76.6 615.08L77.15 615.07L77.7 615.06L78.25 615.05L78.8 615.03L79.35 615.02L79.9 615L80.45 614.99L81.01 614.97L81.56 614.95L82.11 614.93L82.66 614.91L83.21 614.89L83.76 614.87L84.31 614.86L84.86 614.84L85.41 614.82L85.96 614.81L86.51 614.8L87.06 614.79L87.61 614.78L88.16 614.77L89.27 614.78L89.82 614.8L90.37 614.86L90.92 614.94L91.47 615.04L92.02 615.15L92.57 615.28L93.12 615.42L93.67 615.57L94.22 615.73L94.77 615.88L95.32 616.03L95.87 616.18L96.42 616.32L96.97 616.46L97.53 616.61L98.08 616.76L98.63 616.91L99.18 617.08L99.73 617.25L100.28 617.42L100.83 617.61L101.38 617.81L101.93 618.03L102.48 618.25L103.03 618.5L103.58 618.76L104.13 619.05L104.68 619.38L105.23 619.75L105.79 620.15L106.34 620.58L106.89 621.05L107.44 621.55L107.99 622.08L108.54 622.67L109.09 623.35L109.64 624.1L110.19 624.92L110.74 625.79L111.29 626.72L111.84 627.68L112.39 628.68L112.94 629.71L113.49 630.81L114.05 631.98L114.6 633.24L115.15 634.57L115.7 635.99L116.25 637.48L116.8 639.1L117.35 640.87L117.9 642.76L118.45 644.75L119 646.82L119.55 648.95L120.1 651.12L120.65 653.42L121.2 655.82L121.75 658.3L122.31 660.84L122.86 663.41L123.41 665.98L123.96 668.73L124.51 671.56L125.06 674.28L125.61 676.69L126.16 678.89L126.71 681.02L127.26 682.88L127.81 684.32L128.36 685.35L128.91 686.26L129.46 686.89L130.01 687.03L130.57 686.5L131.12 685.41L131.67 683.91L132.22 682.1L132.77 678.93L133.32 674.41L133.87 669.16L134.42 663.23L134.97 655.89L135.52 647.67L136.07 638.89L136.62 629.04L137.17 618.54L137.72 608.03L138.27 598.37L138.83 589.46L139.38 582.59L139.93 577.94L140.48 576.17L141.03 575.71L141.58 576.57L142.13 577.74L142.68 579.18L143.23 580.34L143.78 581.18L144.33 581.87L144.88 582.38L145.43 582.8L145.98 583.13L146.53 583.27L147.09 582.73L147.64 581.53L148.19 580.21L148.74 578.48L149.29 576.67L149.84 575.01L150.39 573.26L150.94 571.59L151.49 570.18L152.04 569.25L152.59 568.63L153.14 568.11L153.69 567.81L154.24 567.81L154.79 568.12L155.35 568.59L155.9 569.14L156.45 569.92L157 570.94L157.55 572.31L158.1 574.26L158.65 576.49L159.2 578.69L159.75 580.54L160.3 582.22L160.85 583.86L161.4 585.41L161.95 586.85L162.5 588.15L163.05 589.26L163.61 590.26L164.16 591.19L164.71 592.05L165.26 592.84L165.81 593.58L166.36 594.25L166.91 594.88L167.46 595.46L168.01 595.99L168.56 596.5L169.11 596.97L169.66 597.43L170.21 597.87L170.76 598.3L171.31 598.73L171.87 599.17L172.42 599.61L172.97 600.05L173.52 600.48L174.07 600.9L174.62 601.32L175.17 601.72L175.72 602.11L176.27 602.48L176.82 602.84L177.37 603.17L177.92 603.5L178.47 603.82L179.02 604.13L179.57 604.42L180.13 604.71L180.68 604.98L181.23 605.23L181.78 605.47L182.33 605.7L182.88 605.93L183.43 606.17L183.98 606.41L184.53 606.65L185.08 606.88L185.63 607.1L186.18 607.31L186.73 607.5L187.28 607.67L187.83 607.82L188.39 607.93L188.94 608.01L189.49 608.05L190.04 608.05L190.59 607.99L191.14 607.88L191.69 607.74L192.24 607.55L192.79 607.35L193.34 607.12L193.89 606.89L194.44 606.65L194.99 606.34L195.54 605.98L196.09 605.56L196.65 605.11L197.2 604.62L197.75 604.11L198.3 603.54L198.85 602.91L199.4 602.21L199.95 601.47L200.5 600.68L201.05 599.87L201.6 599.03L202.15 598.15L202.7 597.22L203.25 596.24L203.8 595.2L204.35 594.11L204.91 592.95L205.46 591.68L206.01 590.31L206.56 588.86L207.11 587.35L207.66 585.81L208.21 584.25L208.76 582.65L209.31 580.9L209.86 579.08L210.41 577.28L210.96 575.56L211.51 574.01L212.06 572.69L212.61 571.45L213.17 570.25L213.72 569.17L214.27 568.29L214.82 567.67L215.37 567.3L215.92 566.98L216.47 566.74L217.02 566.6L217.57 566.58L219.22 566.58L219.77 566.63L220.32 566.98L220.87 567.55L221.43 568.25L221.98 569.36L222.53 570.92L223.08 572.83L223.63 574.98L224.18 577.68L224.73 581.12L225.28 584.91L225.83 588.82L226.38 593.21L226.93 597.63L227.48 601.64L228.03 605.58L228.58 609L229.13 611.44L229.69 613.39L230.24 614.99L230.79 616.25L231.34 617.08L231.89 618.14L232.44 619.66L232.99 621.5L233.54 623.59L234.09 625.84L234.64 628.18L235.19 630.52L235.74 632.79L236.29 635.13L236.84 637.56L237.39 640.08L237.95 642.73L238.5 645.5L239.05 648.49L239.6 651.9L240.15 655.47L240.7 658.89L241.25 661.88L241.8 664.51L242.35 666.95L242.9 668.98L243.45 670.5L244 671.89L244.55 672.8L245.1 672.84L245.65 672.2L246.21 671.26L246.76 669.97L247.31 668.11L247.86 665.82L248.41 662.7L248.96 658.63L249.51 654.19L250.06 649.78L250.61 644.99L251.16 640.19L251.71 635.84L252.26 631.45L252.81 627.37L253.36 624.42L253.91 622.8L254.47 621.48L255.02 620.62L255.57 620.41L256.12 620.68L256.67 621.2L257.22 621.86L257.77 622.54L258.32 623.14L258.87 623.56L259.42 623.98L259.97 624.4L260.52 624.77L261.07 625.06L261.62 625.22L262.17 625.22L262.73 625.08L263.28 624.84L263.83 624.53L264.38 624.18L264.93 623.83L265.48 623.5L266.03 623.23L266.58 622.97L267.13 622.71L267.68 622.45L268.23 622.19L268.78 621.93L269.33 621.66L269.88 621.4L270.43 621.12L270.99 620.82L271.54 620.51L272.09 620.19L272.64 619.87L273.19 619.58L273.74 619.3L274.29 619.07L274.84 618.87L275.39 618.69L275.94 618.52L276.49 618.37L277.04 618.22L277.59 618.08L278.14 617.94L278.69 617.81L279.25 617.69L279.8 617.56L280.35 617.44L280.9 617.31L281.45 617.19L282 617.06L282.55 616.94L283.1 616.83L283.65 616.71L284.2 616.6L284.75 616.5L285.3 616.4L285.85 616.31L286.4 616.23L286.95 616.15L287.51 616.08L288.06 616.01L288.61 615.93L289.16 615.87L289.71 615.8L290.26 615.74L290.81 615.68L291.36 615.63L291.91 615.58L292.46 615.53L293.01 615.49L293.56 615.45L294.11 615.42L294.66 615.39L295.21 615.36L295.77 615.33L296.32 615.3L296.87 615.27L297.42 615.25L297.97 615.22L298.52 615.2L299.07 615.18L299.62 615.16L300.17 615.14L300.72 615.12L301.27 615.11L301.82 615.09L302.37 615.08L302.92 615.06L303.47 615.05L304.03 615.04L304.58 615.03L305.13 615.02L305.68 615L306.23 614.99L306.78 614.98L307.33 614.97L307.88 614.96L308.43 614.95L308.98 614.94L309.53 614.93L310.08 614.92L310.63 614.91L311.18 614.9L311.73 614.89L312.29 614.88L312.84 614.87L313.39 614.86L313.94 614.85L314.49 614.85L315.04 614.84L315.59 614.83L316.14 614.82L316.69 614.82L317.24 614.81L317.79 614.81L318.34 614.8L318.89 614.8L319.44 614.79L319.99 614.79L324.4 614.77" stroke="#000" stroke-width="1.4" fill="none" stroke-linejoin="round" stroke-dasharray="4.4 4"/>
<path d="M35.3 622.57L35.85 622.04L36.4 621.54L36.95 621.06L37.5 620.6L38.05 620.18L38.6 619.8L39.15 619.46L39.71 619.17L40.26 618.9L40.81 618.65L41.36 618.42L41.91 618.2L42.46 618L43.01 617.81L43.56 617.64L44.11 617.48L44.66 617.32L45.21 617.17L45.76 617.03L46.31 616.89L46.86 616.75L47.41 616.63L47.97 616.5L48.52 616.39L49.07 616.28L49.62 616.19L50.17 616.1L50.72 616.02L51.27 615.96L51.82 615.9L52.37 615.84L52.92 615.78L53.47 615.73L54.02 615.67L54.57 615.62L55.12 615.58L55.67 615.53L56.23 615.49L56.78 615.45L57.33 615.41L57.88 615.38L58.43 615.35L58.98 615.32L59.53 615.3L60.08 615.28L60.63 615.27L61.18 615.26L61.73 615.25L62.28 615.23L62.83 615.23L63.38 615.22L63.93 615.21L64.49 615.2L65.04 615.19L65.59 615.19L66.14 615.18L66.69 615.18L67.24 615.17L67.79 615.17L68.34 615.16L68.89 615.16L69.44 615.15L69.99 615.15L70.54 615.14L71.09 615.14L71.64 615.13L72.19 615.13L72.75 615.12L73.3 615.12L73.85 615.11L74.4 615.11L74.95 615.1L75.5 615.09L76.05 615.09L76.6 615.08L77.15 615.07L77.7 615.06L78.25 615.05L78.8 615.04L79.35 615.03L79.9 615.02L80.45 615.01L81.01 615L81.56 614.99L82.11 614.98L82.66 614.97L83.21 614.96L83.76 614.95L84.31 614.93L84.86 614.92L85.41 614.9L85.96 614.88L86.51 614.87L87.06 614.85L87.61 614.83L88.16 614.81L88.71 614.78L89.27 614.76L89.82 614.72L90.37 614.68L90.92 614.62L91.47 614.56L92.02 614.49L92.57 614.42L93.12 614.34L93.67 614.26L94.22 614.18L94.77 614.09L95.32 614.01L95.87 613.92L96.42 613.84L96.97 613.76L97.53 613.67L98.08 613.58L98.63 613.48L99.18 613.37L99.73 613.25L100.28 613.12L100.83 612.97L101.38 612.81L101.93 612.62L102.48 612.42L103.03 612.21L103.58 611.98L104.13 611.75L104.68 611.5L105.23 611.25L105.79 610.98L106.34 610.69L106.89 610.39L107.44 610.06L107.99 609.72L108.54 609.36L109.09 608.98L109.64 608.58L110.19 608.16L110.74 607.72L111.29 607.23L111.84 606.7L112.39 606.14L112.94 605.54L113.49 604.92L114.05 604.28L114.6 603.61L115.15 602.9L115.7 602.14L116.25 601.3L116.8 600.35L117.35 599.27L117.9 598.03L118.45 596.64L119 595.14L119.55 593.53L120.1 591.84L120.65 590.08L121.2 588.15L121.75 585.98L122.31 583.66L122.86 581.28L123.41 578.93L123.96 576.68L124.51 574.14L125.06 571.5L125.61 569.22L126.16 567.75L126.71 567.18L127.26 566.79L127.81 566.52L128.36 566.35L128.91 566.21L129.46 566.11L130.01 566.11L130.57 566.49L131.12 567.18L131.67 568.04L132.22 569.38L132.77 571.02L133.32 572.88L133.87 575.03L134.42 577.46L134.97 580.17L135.52 583.17L136.07 586.83L136.62 591.04L137.17 595.42L137.72 599.99L138.27 604.75L138.83 608.55L139.38 611.82L139.93 614.68L140.48 617.04L141.03 619L141.58 620.73L142.13 622.28L142.68 623.7L143.23 625.04L143.78 626.35L144.33 627.49L144.88 628.54L145.43 629.7L145.98 631.14L146.53 632.89L147.09 634.87L147.64 637L148.19 639.23L148.74 641.59L149.29 644.12L149.84 646.84L150.39 649.76L150.94 653.05L151.49 656.86L152.04 660.6L152.59 663.87L153.14 667.06L153.69 669.68L154.24 671.27L154.79 672.53L155.35 673.32L155.9 673.31L156.45 672.47L157 671.06L157.55 669.38L158.1 666.96L158.65 663.5L159.2 659.53L159.75 655.41L160.3 650.6L160.85 645.67L161.4 641.23L161.95 636.89L162.5 633.08L163.05 630.23L163.61 627.78L164.16 625.79L164.71 624.45L165.26 623.54L165.81 622.85L166.36 622.57L166.91 622.68L167.46 622.97L168.01 623.37L168.56 623.81L169.11 624.25L169.66 624.66L170.21 625.16L170.76 625.66L171.31 626.03L171.87 626.12L172.42 625.99L172.97 625.72L173.52 625.35L174.07 624.93L174.62 624.51L175.17 624.14L175.72 623.81L176.27 623.47L176.82 623.12L177.37 622.77L177.92 622.43L178.47 622.11L179.02 621.81L179.57 621.55L180.13 621.34L180.68 621.14L181.23 620.96L181.78 620.8L182.33 620.65L182.88 620.53L183.43 620.42L183.98 620.33L184.53 620.25L185.08 620.17L185.63 620.1L186.18 620.05L186.73 620.01L187.28 620.01L187.83 620.06L188.39 620.17L188.94 620.34L189.49 620.55L190.04 620.79L190.59 621.06L191.14 621.33L191.69 621.61L192.24 621.91L192.79 622.25L193.34 622.65L193.89 623.08L194.44 623.56L194.99 624.08L195.54 624.62L196.09 625.19L196.65 625.79L197.2 626.43L197.75 627.14L198.3 627.92L198.85 628.74L199.4 629.61L199.95 630.53L200.5 631.49L201.05 632.49L201.6 633.53L202.15 634.66L202.7 635.87L203.25 637.16L203.8 638.51L204.35 639.93L204.91 641.42L205.46 643.01L206.01 644.72L206.56 646.52L207.11 648.4L207.66 650.33L208.21 652.3L208.76 654.31L209.31 656.41L209.86 658.58L210.41 660.81L210.96 663.07L211.51 665.33L212.06 667.57L212.61 669.92L213.17 672.3L213.72 674.6L214.27 676.69L214.82 678.57L215.37 680.31L215.92 681.82L216.47 683.18L217.02 684.42L217.57 685.39L218.12 686.1L218.67 686.7L219.22 686.96L219.77 686.63L220.32 685.85L220.87 684.78L221.43 682.96L221.98 680.43L222.53 676.74L223.08 672.21L223.63 666.42L224.18 658.35L224.73 649.17L225.28 641.1L225.83 633.44L226.38 626.02L226.93 619.32L227.48 607.49L228.03 594.16L228.58 588.05L229.13 584.36L229.69 581.93L230.24 580.34L230.79 580.15L231.34 580.45L231.89 580.94L232.44 581.49L232.99 582.38L233.54 583.65L234.09 584.84L234.64 585.51L235.19 585.3L235.74 584.38L236.29 583.03L236.84 581.52L237.39 580.04L237.95 578.19L238.5 576.14L239.05 574.15L239.6 572.51L240.15 571.13L240.7 569.84L241.25 568.73L241.8 567.91L242.35 567.37L242.9 566.91L243.45 566.62L244 566.63L244.55 566.95L245.1 567.51L245.65 568.24L246.21 569.05L246.76 570.19L247.31 571.82L247.86 573.7L248.41 575.61L248.96 577.46L249.51 579.44L250.06 581.47L250.61 583.43L251.16 585.28L251.71 587.17L252.26 588.98L252.81 590.55L253.36 591.72L253.91 592.66L254.47 593.49L255.02 594.23L255.57 594.88L256.12 595.46L256.67 595.99L257.22 596.45L257.77 596.84L258.32 597.18L258.87 597.5L259.42 597.82L259.97 598.18L260.52 598.59L261.07 599.06L261.62 599.57L262.17 600.11L262.73 600.65L263.28 601.16L263.83 601.64L264.38 602.07L264.93 602.49L265.48 602.89L266.03 603.28L266.58 603.66L267.13 604.04L267.68 604.42L268.23 604.8L268.78 605.19L269.33 605.6L269.88 606.01L270.43 606.42L270.99 606.83L271.54 607.23L272.09 607.63L272.64 608.01L273.19 608.36L273.74 608.71L274.29 609.05L274.84 609.39L275.39 609.72L275.94 610.03L276.49 610.33L277.04 610.6L277.59 610.85L278.14 611.07L278.69 611.27L279.25 611.46L279.8 611.64L280.35 611.8L280.9 611.96L281.45 612.11L282 612.25L282.55 612.39L283.1 612.52L283.65 612.64L284.2 612.76L284.75 612.87L285.3 612.98L285.85 613.09L286.4 613.2L286.95 613.31L287.51 613.41L288.06 613.5L288.61 613.59L289.16 613.67L289.71 613.74L290.26 613.8L290.81 613.86L291.36 613.9L291.91 613.95L292.46 613.99L293.01 614.04L293.56 614.08L294.11 614.12L294.66 614.16L295.21 614.19L295.77 614.23L296.32 614.26L296.87 614.28L297.42 614.31L297.97 614.33L298.52 614.35L299.07 614.36L299.62 614.37L300.17 614.38L324.4 614.38" stroke="#ff1414" stroke-width="1.6" fill="none" stroke-linejoin="round"/>
<path d="M35.3 622.57L35.85 622.04L36.4 621.54L36.95 621.06L37.5 620.6L38.05 620.18L38.6 619.8L39.15 619.46L39.71 619.17L40.26 618.9L40.81 618.65L41.36 618.42L41.91 618.2L42.46 618L43.01 617.81L43.56 617.64L44.11 617.48L44.66 617.32L45.21 617.17L45.76 617.03L46.31 616.89L46.86 616.75L47.41 616.63L47.97 616.5L48.52 616.39L49.07 616.28L49.62 616.19L50.17 616.1L50.72 616.02L51.27 615.96L51.82 615.9L52.37 615.84L52.92 615.78L53.47 615.73L54.02 615.67L54.57 615.62L55.12 615.58L55.67 615.53L56.23 615.49L56.78 615.45L57.33 615.41L57.88 615.38L58.43 615.35L58.98 615.32L59.53 615.3L60.08 615.28L60.63 615.27L61.18 615.26L61.73 615.25L62.28 615.23L62.83 615.23L63.38 615.22L63.93 615.21L64.49 615.2L65.04 615.19L65.59 615.19L66.14 615.18L66.69 615.18L67.24 615.17L67.79 615.17L68.34 615.16L68.89 615.16L69.44 615.15L69.99 615.15L70.54 615.14L71.09 615.14L71.64 615.13L72.19 615.13L72.75 615.12L73.3 615.12L73.85 615.11L74.4 615.11L74.95 615.1L75.5 615.09L76.05 615.09L76.6 615.08L77.15 615.07L77.7 615.06L78.25 615.05L78.8 615.03L79.35 615.02L79.9 615L80.45 614.99L81.01 614.97L81.56 614.95L82.11 614.93L82.66 614.91L83.21 614.89L83.76 614.87L84.31 614.86L84.86 614.84L85.41 614.82L85.96 614.81L86.51 614.8L87.06 614.79L87.61 614.78L88.16 614.77L89.27 614.78L89.82 614.8L90.37 614.86L90.92 614.94L91.47 615.04L92.02 615.15L92.57 615.28L93.12 615.42L93.67 615.57L94.22 615.73L94.77 615.88L95.32 616.03L95.87 616.18L96.42 616.32L96.97 616.46L97.53 616.61L98.08 616.76L98.63 616.91L99.18 617.08L99.73 617.25L100.28 617.42L100.83 617.61L101.38 617.81L101.93 618.03L102.48 618.25L103.03 618.5L103.58 618.76L104.13 619.05L104.68 619.38L105.23 619.75L105.79 620.15L106.34 620.58L106.89 621.05L107.44 621.55L107.99 622.08L108.54 622.67L109.09 623.35L109.64 624.1L110.19 624.92L110.74 625.79L111.29 626.72L111.84 627.68L112.39 628.68L112.94 629.71L113.49 630.8L114.05 631.97L114.6 633.22L115.15 634.55L115.7 635.97L116.25 637.48L116.8 639.13L117.35 640.95L117.9 642.91L118.45 644.98L119 647.15L119.55 649.38L120.1 651.67L120.65 654.08L121.2 656.6L121.75 659.23L122.31 661.97L122.86 664.81L123.41 667.77L123.96 671.06L124.51 674.57L125.06 678.01L125.61 681.13L126.16 684.04L126.71 686.89L127.26 689.42L127.81 691.41L128.36 692.88L128.91 694.2L129.46 695.11L130.01 695.33L130.57 694.78L131.12 693.63L131.67 692.02L132.22 690.02L132.77 686.01L133.32 680.13L133.87 673.43L134.42 666.18L134.97 657.45L135.52 648.07L136.07 638.78L136.62 629.04L137.17 618.15L137.72 606.9L138.27 596.23L138.83 585.91L139.38 576.53L139.93 567.59L140.48 563.08L141.03 560.48L141.58 559.85L142.13 561.45L142.68 564.13L143.23 566.69L143.78 569.48L144.33 572.35L144.88 574.59L145.43 575.98L145.98 577.08L146.53 577.54L147.09 577.17L147.64 576.23L148.19 574.98L148.74 573.69L149.29 572.14L149.84 570.18L150.39 568.16L150.94 566.41L151.49 565.27L152.04 564.46L152.59 563.83L153.14 563.44L153.69 563.14L154.24 562.96L154.79 562.97L155.35 563.28L155.9 563.72L156.45 564.35L157 565.25L157.55 566.37L158.1 567.85L158.65 569.52L159.2 571.21L159.75 572.79L160.3 574.35L160.85 575.95L161.4 577.52L161.95 579.01L162.5 580.38L163.05 581.58L163.61 582.67L164.16 583.7L164.71 584.67L165.26 585.57L165.81 586.4L166.36 587.18L166.91 587.88L167.46 588.52L168.01 589.09L168.56 589.62L169.11 590.12L169.66 590.61L170.21 591.1L170.76 591.61L171.31 592.15L171.87 592.75L172.42 593.41L172.97 594.11L173.52 594.85L174.07 595.61L174.62 596.38L175.17 597.14L175.72 597.88L176.27 598.64L176.82 599.43L177.37 600.23L177.92 601.01L178.47 601.74L179.02 602.39L179.57 602.92L180.13 603.38L180.68 603.81L181.23 604.22L181.78 604.6L182.33 604.95L182.88 605.26L183.43 605.55L183.98 605.81L184.53 606.03L185.08 606.23L185.63 606.43L186.18 606.62L186.73 606.8L187.28 606.97L187.83 607.12L188.39 607.23L188.94 607.31L189.49 607.36L190.04 607.36L190.59 607.3L191.14 607.2L191.69 607.05L192.24 606.87L192.79 606.66L193.34 606.44L193.89 606.2L194.44 605.95L194.99 605.63L195.54 605.24L196.09 604.79L196.65 604.3L197.2 603.77L197.75 603.22L198.3 602.62L198.85 601.94L199.4 601.2L199.95 600.41L200.5 599.57L201.05 598.7L201.6 597.8L202.15 596.84L202.7 595.83L203.25 594.76L203.8 593.63L204.35 592.42L204.91 591.14L205.46 589.72L206.01 588.18L206.56 586.54L207.11 584.82L207.66 583.05L208.21 581.25L208.76 579.38L209.31 577.32L209.86 575.16L210.41 573L210.96 570.92L211.51 569.02L212.06 567.38L212.61 565.86L213.17 564.4L213.72 563.07L214.27 561.91L214.82 560.95L215.37 560.2L215.92 559.52L216.47 558.96L217.02 558.53L217.57 558.26L218.12 558.05L218.67 557.91L219.22 557.95L219.77 558.36L220.32 559.07L220.87 559.99L221.43 561.04L221.98 562.61L222.53 564.75L223.08 567.32L223.63 570.14L224.18 573.54L224.73 577.68L225.28 582.14L225.83 586.62L226.38 591.44L226.93 596.24L227.48 600.68L228.03 605.12L228.58 608.92L229.13 611.47L229.69 613.43L230.24 615.01L230.79 616.25L231.34 617.08L231.89 618.14L232.44 619.65L232.99 621.48L233.54 623.56L234.09 625.81L234.64 628.15L235.19 630.5L235.74 632.81L236.29 635.19L236.84 637.67L237.39 640.27L237.95 643.02L238.5 645.93L239.05 649.12L239.6 652.82L240.15 656.74L240.7 660.53L241.25 663.85L241.8 666.73L242.35 669.39L242.9 671.72L243.45 673.7L244 675.47L244.55 676.69L245.1 677.43L245.65 677.63L246.21 676.75L246.76 675.28L247.31 672.72L247.86 669.38L248.41 665.03L248.96 659.94L249.51 654.8L250.06 649.93L250.61 644.97L251.16 640.19L251.71 635.83L252.26 631.43L252.81 627.35L253.36 624.42L253.91 622.8L254.47 621.48L255.02 620.62L255.57 620.41L256.12 620.68L256.67 621.2L257.22 621.86L257.77 622.54L258.32 623.14L258.87 623.56L259.42 623.98L259.97 624.4L260.52 624.77L261.07 625.06L261.62 625.22L262.17 625.22L262.73 625.08L263.28 624.84L263.83 624.53L264.38 624.18L264.93 623.83L265.48 623.5L266.03 623.23L266.58 622.97L267.13 622.71L267.68 622.45L268.23 622.19L268.78 621.93L269.33 621.66L269.88 621.4L270.43 621.12L270.99 620.82L271.54 620.51L272.09 620.19L272.64 619.87L273.19 619.58L273.74 619.3L274.29 619.07L274.84 618.87L275.39 618.69L275.94 618.52L276.49 618.37L277.04 618.22L277.59 618.08L278.14 617.94L278.69 617.81L279.25 617.69L279.8 617.56L280.35 617.44L280.9 617.31L281.45 617.19L282 617.06L282.55 616.94L283.1 616.83L283.65 616.71L284.2 616.6L284.75 616.5L285.3 616.4L285.85 616.31L286.4 616.23L286.95 616.15L287.51 616.08L288.06 616.01L288.61 615.93L289.16 615.87L289.71 615.8L290.26 615.74L290.81 615.68L291.36 615.63L291.91 615.58L292.46 615.53L293.01 615.49L293.56 615.45L294.11 615.42L294.66 615.39L295.21 615.36L295.77 615.33L296.32 615.3L296.87 615.27L297.42 615.25L297.97 615.22L298.52 615.2L299.07 615.18L299.62 615.16L300.17 615.14L300.72 615.12L301.27 615.11L301.82 615.09L302.37 615.08L302.92 615.06L303.47 615.05L304.03 615.04L304.58 615.03L305.13 615.02L305.68 615L306.23 614.99L306.78 614.98L307.33 614.97L307.88 614.96L308.43 614.95L308.98 614.94L309.53 614.93L310.08 614.92L310.63 614.91L311.18 614.9L311.73 614.89L312.29 614.88L312.84 614.87L313.39 614.86L313.94 614.85L314.49 614.85L315.04 614.84L315.59 614.83L316.14 614.82L316.69 614.82L317.24 614.81L317.79 614.81L318.34 614.8L318.89 614.8L319.44 614.79L319.99 614.79L324.4 614.77" stroke="#0a32ff" stroke-width="1.7" fill="none" stroke-linejoin="round" stroke-dasharray="3.1 0.7 0.4 0.7"/>
<path d="M35.3 622.57L35.85 622.04L36.4 621.54L36.95 621.06L37.5 620.6L38.05 620.18L38.6 619.8L39.15 619.46L39.71 619.17L40.26 618.9L40.81 618.65L41.36 618.42L41.91 618.2L42.46 618L43.01 617.81L43.56 617.64L44.11 617.48L44.66 617.32L45.21 617.17L45.76 617.03L46.31 616.89L46.86 616.75L47.41 616.63L47.97 616.5L48.52 616.39L49.07 616.28L49.62 616.19L50.17 616.1L50.72 616.02L51.27 615.96L51.82 615.9L52.37 615.84L52.92 615.78L53.47 615.73L54.02 615.67L54.57 615.62L55.12 615.58L55.67 615.53L56.23 615.49L56.78 615.45L57.33 615.41L57.88 615.38L58.43 615.35L58.98 615.32L59.53 615.3L60.08 615.28L60.63 615.27L61.18 615.26L61.73 615.25L62.28 615.23L62.83 615.23L63.38 615.22L63.93 615.21L64.49 615.2L65.04 615.19L65.59 615.19L66.14 615.18L66.69 615.18L67.24 615.17L67.79 615.17L68.34 615.16L68.89 615.16L69.44 615.15L69.99 615.15L70.54 615.14L71.09 615.14L71.64 615.13L72.19 615.13L72.75 615.12L73.3 615.12L73.85 615.11L74.4 615.11L74.95 615.1L75.5 615.09L76.05 615.09L76.6 615.08L77.15 615.07L77.7 615.06L78.25 615.05L78.8 615.04L79.35 615.03L79.9 615.03L80.45 615.02L81.01 615.01L81.56 615L82.11 614.99L82.66 614.97L83.21 614.96L83.76 614.95L84.31 614.94L84.86 614.92L85.41 614.91L85.96 614.89L86.51 614.87L87.06 614.85L87.61 614.83L88.16 614.81L88.71 614.78L89.27 614.76L89.82 614.71L90.37 614.64L90.92 614.56L91.47 614.46L92.02 614.35L92.57 614.23L93.12 614.11L93.67 613.99L94.22 613.87L94.77 613.75L95.32 613.64L95.87 613.53L96.42 613.44L96.97 613.36L97.53 613.29L98.08 613.22L98.63 613.14L99.18 613.05L99.73 612.95L100.28 612.83L100.83 612.67L101.38 612.49L101.93 612.27L102.48 612.03L103.03 611.78L103.58 611.51L104.13 611.23L104.68 610.94L105.23 610.65L105.79 610.35L106.34 610.02L106.89 609.68L107.44 609.31L107.99 608.92L108.54 608.49L109.09 608.04L109.64 607.55L110.19 607.03L110.74 606.47L111.29 605.87L111.84 605.24L112.39 604.56L112.94 603.84L113.49 603.08L114.05 602.27L114.6 601.4L115.15 600.43L115.7 599.33L116.25 598.12L116.8 596.79L117.35 595.33L117.9 593.6L118.45 591.62L119 589.55L119.55 587.52L120.1 585.62L120.65 583.8L121.2 581.96L121.75 580L122.31 577.81L122.86 575.25L123.41 571.62L123.96 567.81L124.51 565.19L125.06 563.39L125.61 561.94L126.16 560.8L126.71 559.89L127.26 559.14L127.81 558.59L128.36 558.2L128.91 557.88L129.46 557.7L130.01 557.78L130.57 558.1L131.12 558.59L131.67 559.17L132.22 560L132.77 561.21L133.32 562.71L133.87 564.58L134.42 567.08L134.97 570.06L135.52 573.37L136.07 576.85L136.62 580.75L137.17 585.16L137.72 590.07L138.27 596.03L138.83 602.84L139.38 607.84L139.93 611.84L140.48 615.11L141.03 617.64L141.58 619.76L142.13 621.61L142.68 623.25L143.23 624.75L143.78 626.18L144.33 627.39L144.88 628.49L145.43 629.68L145.98 631.15L146.53 632.9L147.09 634.86L147.64 636.99L148.19 639.24L148.74 641.66L149.29 644.28L149.84 647.12L150.39 650.2L150.94 653.73L151.49 657.87L152.04 662L152.59 665.64L153.14 669.24L153.69 672.22L154.24 674.03L154.79 675.47L155.35 676.36L155.9 676.35L156.45 675.35L157 673.7L157.55 671.75L158.1 669.06L158.65 665.31L159.2 661.05L159.75 656.66L160.3 651.62L160.85 646.48L161.4 641.79L161.95 637.17L162.5 633.13L163.05 630.21L163.61 627.76L164.16 625.78L164.71 624.45L165.26 623.54L165.81 622.85L166.36 622.57L166.91 622.68L167.46 622.97L168.01 623.37L168.56 623.81L169.11 624.25L169.66 624.66L170.21 625.16L170.76 625.66L171.31 626.03L171.87 626.12L172.42 625.99L172.97 625.72L173.52 625.35L174.07 624.93L174.62 624.51L175.17 624.14L175.72 623.81L176.27 623.47L176.82 623.12L177.37 622.77L177.92 622.43L178.47 622.11L179.02 621.81L179.57 621.55L180.13 621.34L180.68 621.14L181.23 620.96L181.78 620.8L182.33 620.65L182.88 620.53L183.43 620.42L183.98 620.33L184.53 620.25L185.08 620.17L185.63 620.1L186.18 620.05L186.73 620.01L187.28 620.01L187.83 620.06L188.39 620.17L188.94 620.34L189.49 620.55L190.04 620.79L190.59 621.06L191.14 621.33L191.69 621.61L192.24 621.91L192.79 622.25L193.34 622.64L193.89 623.07L194.44 623.55L194.99 624.06L195.54 624.6L196.09 625.18L196.65 625.79L197.2 626.46L197.75 627.22L198.3 628.04L198.85 628.93L199.4 629.87L199.95 630.86L200.5 631.9L201.05 632.97L201.6 634.08L202.15 635.29L202.7 636.58L203.25 637.95L203.8 639.4L204.35 640.93L204.91 642.53L205.46 644.26L206.01 646.12L206.56 648.09L207.11 650.14L207.66 652.26L208.21 654.42L208.76 656.64L209.31 658.99L209.86 661.44L210.41 663.94L210.96 666.45L211.51 668.94L212.06 671.36L212.61 673.73L213.17 676.08L213.72 678.45L214.27 680.9L214.82 683.5L215.37 685.97L215.92 688.06L216.47 689.98L217.02 691.67L217.57 692.98L218.12 694.07L218.67 694.97L219.22 695.35L219.77 694.95L220.32 693.95L220.87 692.58L221.43 689.98L221.98 686.56L222.53 682.64L223.08 677.67L223.63 670.88L224.18 662.71L224.73 653.23L225.28 643.83L225.83 635.1L226.38 626.32L226.93 617.74L227.48 604.33L228.03 589.2L228.58 580.92L229.13 574.98L229.69 570.19L230.24 567.07L230.79 565.49L231.34 565.05L231.89 566.04L232.44 567.75L232.99 569.48L233.54 571.73L234.09 574.36L234.64 576.73L235.19 578.22L235.74 578.31L236.29 577.5L236.84 576.19L237.39 574.7L237.95 573.23L238.5 571.4L239.05 569.44L239.6 567.72L240.15 566.53L240.7 565.55L241.25 564.7L241.8 564.02L242.35 563.5L242.9 563.05L243.45 562.66L244 562.4L244.55 562.35L245.1 562.58L245.65 563.04L246.21 563.64L246.76 564.28L247.31 565.12L247.86 566.19L248.41 567.43L248.96 568.94L249.51 570.88L250.06 573.02L250.61 575.11L251.16 576.97L251.71 578.81L252.26 580.58L252.81 582.17L253.36 583.47L253.91 584.57L254.47 585.56L255.02 586.46L255.57 587.3L256.12 588.1L256.67 588.9L257.22 589.68L257.77 590.41L258.32 591.1L258.87 591.78L259.42 592.46L259.97 593.18L260.52 593.93L261.07 594.77L261.62 595.65L262.17 596.55L262.73 597.43L263.28 598.25L263.83 598.97L264.38 599.62L264.93 600.22L265.48 600.79L266.03 601.34L266.58 601.86L267.13 602.37L267.68 602.86L268.23 603.35L268.78 603.83L269.33 604.31L269.88 604.78L270.43 605.25L270.99 605.7L271.54 606.14L272.09 606.56L272.64 606.97L273.19 607.37L273.74 607.75L274.29 608.13L274.84 608.51L275.39 608.88L275.94 609.23L276.49 609.56L277.04 609.87L277.59 610.14L278.14 610.39L278.69 610.61L279.25 610.83L279.8 611.03L280.35 611.23L280.9 611.41L281.45 611.58L282 611.74L282.55 611.89L283.1 612.03L283.65 612.15L284.2 612.26L284.75 612.36L285.3 612.46L285.85 612.56L286.4 612.65L286.95 612.73L287.51 612.81L288.06 612.89L288.61 612.96L289.16 613.02L289.71 613.08L290.26 613.13L290.81 613.17L291.36 613.21L291.91 613.24L292.46 613.27L293.01 613.3L293.56 613.33L294.11 613.35L294.66 613.38L295.21 613.4L295.77 613.42L296.32 613.44L296.87 613.46L297.42 613.47L297.97 613.49L298.52 613.51L299.07 613.53L299.62 613.55L300.17 613.57L300.72 613.6L301.27 613.62L301.82 613.65L302.37 613.67L302.92 613.69L303.47 613.72L304.03 613.74L304.58 613.77L305.13 613.79L305.68 613.82L306.23 613.84L306.78 613.87L307.33 613.89L307.88 613.92L308.43 613.94L308.98 613.96L309.53 613.98L310.08 614L310.63 614.02L311.18 614.04L311.73 614.06L312.29 614.08L312.84 614.1L313.39 614.11L313.94 614.13L314.49 614.15L315.04 614.16L315.59 614.18L316.14 614.19L316.69 614.21L317.24 614.22L317.79 614.24L318.34 614.25L318.89 614.26L319.44 614.28L319.99 614.29L320.55 614.3L321.1 614.31L321.65 614.33L322.2 614.34L322.75 614.35L323.3 614.36L323.85 614.37L324.4 614.38" stroke="#22ff22" stroke-width="1.6" fill="none" stroke-linejoin="round" stroke-dasharray="1.05 1.05"/>
<path d="M76.6 699.4v-3.4M76.6 541.4v3.4M117.9 699.4v-3.4M117.9 541.4v3.4M159.2 699.4v-3.4M159.2 541.4v3.4M200.5 699.4v-3.4M200.5 541.4v3.4M241.8 699.4v-3.4M241.8 541.4v3.4M283.1 699.4v-3.4M283.1 541.4v3.4M35.3 659.9h3.4M324.4 659.9h-3.4M35.3 620.4h3.4M324.4 620.4h-3.4M35.3 580.9h3.4M324.4 580.9h-3.4" stroke="#262626" stroke-width="1" fill="none"/>
<rect x="35.3" y="541.4" width="289.1" height="158" fill="none" stroke="#262626" stroke-width="1.1"/>
<text x="35.3" y="714" font-size="11" text-anchor="middle" font-weight="bold" stroke="#111" stroke-width="0.25">0</text>
<text x="76.6" y="714" font-size="11" text-anchor="middle" font-weight="bold" stroke="#111" stroke-width="0.25">30</text>
<text x="117.9" y="714" font-size="11" text-anchor="middle" font-weight="bold" stroke="#111" stroke-width="0.25">60</text>
<text x="159.2" y="714" font-size="11" text-anchor="middle" font-weight="bold" stroke="#111" stroke-width="0.25">90</text>
<text x="200.5" y="714" font-size="11" text-anchor="middle" font-weight="bold" stroke="#111" stroke-width="0.25">120</text>
<text x="241.8" y="714" font-size="11" text-anchor="middle" font-weight="bold" stroke="#111" stroke-width="0.25">150</text>
<text x="283.1" y="714" font-size="11" text-anchor="middle" font-weight="bold" stroke="#111" stroke-width="0.25">180</text>
<text x="324.4" y="714" font-size="11" text-anchor="middle" font-weight="bold" stroke="#111" stroke-width="0.25">210</text>
<text x="30.9" y="703.03" font-size="11" text-anchor="end" font-weight="bold" stroke="#111" stroke-width="0.25">-8</text>
<text x="30.9" y="663.53" font-size="11" text-anchor="end" font-weight="bold" stroke="#111" stroke-width="0.25">-4</text>
<text x="30.9" y="624.03" font-size="11" text-anchor="end" font-weight="bold" stroke="#111" stroke-width="0.25">0</text>
<text x="30.9" y="584.53" font-size="11" text-anchor="end" font-weight="bold" stroke="#111" stroke-width="0.25">4</text>
<text x="30.9" y="545.03" font-size="11" text-anchor="end" font-weight="bold" stroke="#111" stroke-width="0.25">8</text>
<text x="179.85" y="728.5" font-size="12.4" text-anchor="middle" font-weight="bold" stroke="#111" stroke-width="0.25">X (m)</text>
<text x="17.1" y="620.8" font-size="12.4" text-anchor="middle" font-weight="bold" stroke="#111" stroke-width="0.25" transform="rotate(-90 17.1 620.8)">Slip rate</text>
<text x="176.3" y="757" font-size="23.5" text-anchor="middle" stroke="#111" stroke-width="0.2">(e)</text>
<rect x="272.5" y="548.2" width="45" height="47.2" fill="#fff" stroke="#2c2c2c" stroke-width="1.05"/>
<path d="M274.8 554.8H299" stroke="#000" stroke-width="1.4" stroke-dasharray="4.4 4"/>
<text x="301.5" y="557.7" font-size="9.2" text-anchor="start" font-weight="bold" stroke="#111" stroke-width="0.25" letter-spacing="0.3">FL</text>
<path d="M274.8 566.1H299" stroke="#ff1414" stroke-width="1.6"/>
<text x="301.5" y="568.9" font-size="9.2" text-anchor="start" font-weight="bold" stroke="#111" stroke-width="0.25" letter-spacing="0.3">FR</text>
<path d="M274.8 577.5H299" stroke="#0a32ff" stroke-width="1.5" stroke-dasharray="4 1.6 1.5 1.6"/>
<text x="301.5" y="580.2" font-size="9.2" text-anchor="start" font-weight="bold" stroke="#111" stroke-width="0.25" letter-spacing="0.3">RL</text>
<path d="M274.8 588.7H299" stroke="#22ff22" stroke-width="1.3" stroke-dasharray="1.05 1.05"/>
<text x="301.5" y="591.6" font-size="9.2" text-anchor="start" font-weight="bold" stroke="#111" stroke-width="0.25" letter-spacing="0.3">RR</text>
<text x="36" y="540.1" font-size="13.5" text-anchor="start" stroke="#111" stroke-width="0.3">×</text>
<text x="45.3" y="538.8" font-size="11" text-anchor="start" font-weight="bold" stroke="#111" stroke-width="0.25">10</text>
<text x="56.3" y="533.7" font-size="8.8" text-anchor="start" font-weight="bold" stroke="#111" stroke-width="0.25">-3</text>
<path d="M438.81 541.4V699.1M476.23 541.4V699.1M513.64 541.4V699.1M551.06 541.4V699.1M588.47 541.4V699.1M625.89 541.4V699.1M401.4 676.57H663.3M401.4 654.04H663.3M401.4 631.51H663.3M401.4 608.99H663.3M401.4 586.46H663.3M401.4 563.93H663.3" stroke="#e8eded" stroke-width="0.7" fill="none"/>
<path d="M438.81 699.1v-3.4M438.81 541.4v3.4M476.23 699.1v-3.4M476.23 541.4v3.4M513.64 699.1v-3.4M513.64 541.4v3.4M551.06 699.1v-3.4M551.06 541.4v3.4M588.47 699.1v-3.4M588.47 541.4v3.4M625.89 699.1v-3.4M625.89 541.4v3.4M401.4 676.57h3.4M401.4 654.04h3.4M401.4 631.51h3.4M401.4 608.99h3.4M401.4 586.46h3.4M401.4 563.93h3.4M663.3 672.82h-3.4M663.3 646.53h-3.4M663.3 620.25h-3.4M663.3 593.97h-3.4M663.3 567.68h-3.4" stroke="#262626" stroke-width="1" fill="none"/>
<rect x="401.4" y="541.4" width="261.9" height="157.7" fill="none" stroke="#262626" stroke-width="1.1"/>
<path d="M401.4 699.1L483.34 699.1L483.59 590.51L484.83 644.24L488.2 599.97L490.82 575.19L492.44 569.56L493.94 568.43L495.31 569.56L496.56 573.73L498.68 591.64L499.43 602.23L499.49 699.1L506.91 699.1L507.03 624.19L508.53 645.37L511.27 605.61L513.39 590.51L514.64 586.46L515.64 584.77L516.64 586.46L517.63 590.51L520.25 607.86L524.31 628.13L524.37 699.1L564.15 699.1L564.28 590.96L565.27 646.72L566.77 623.63L570.01 589.84L572.01 575.19L573.76 566.18L574.75 564.27L575.75 567.31L577.37 577.45L579.37 592.09L580.8 602.57L580.86 699.1L588.6 699.1L588.72 615.18L589.59 648.86L590.97 621.38L593.09 600.42L595.21 587.81L596.45 584.77L597.33 584.2L598.32 587.58L599.45 594.34L602.56 613.04L605.62 627.8L605.68 699.1L663.3 699.1" stroke="#ff1e28" stroke-width="1.6" fill="none" stroke-linejoin="round"/>
<path d="M401.4 699.1L483.21 699.1L483.46 595.81L484.09 663.05L485.71 633.77L488.45 599.97L490.94 575.19L492.44 569.56L493.94 568.43L495.31 569.56L496.56 573.73L498.68 591.64L499.43 602.23L499.49 699.1L507.03 699.1L507.78 599.41L508.03 620.25L508.28 611.24L508.65 641.09L510.9 605.61L513.02 588.71L514.39 583.08L515.39 581.39L516.51 585.33L517.63 590.51L520.25 607.86L524.31 628.13L524.37 699.1L564.15 699.1L564.4 598.28L564.78 663.62L566.52 623.63L569.89 589.84L571.88 574.07L573.63 563.93L574.63 561.68L575.75 566.18L577.37 577.45L579.37 592.09L580.8 602.57L580.86 699.1L588.6 699.1L589.22 603.58L589.84 646.16L590.97 614.62L592.46 598.85L594.58 586.46L596.08 583.08L596.95 582.51L598.2 586.46L599.45 594.34L602.56 613.04L605.62 627.8L605.68 699.1L663.3 699.1" stroke="#1e82ff" stroke-width="1.6" fill="none" stroke-linejoin="round" stroke-dasharray="4.8 3.6"/>
<text x="401.4" y="713.7" font-size="11" text-anchor="middle" font-weight="bold" stroke="#111" stroke-width="0.25">0</text>
<text x="438.81" y="713.7" font-size="11" text-anchor="middle" font-weight="bold" stroke="#111" stroke-width="0.25">30</text>
<text x="476.23" y="713.7" font-size="11" text-anchor="middle" font-weight="bold" stroke="#111" stroke-width="0.25">60</text>
<text x="513.64" y="713.7" font-size="11" text-anchor="middle" font-weight="bold" stroke="#111" stroke-width="0.25">90</text>
<text x="551.06" y="713.7" font-size="11" text-anchor="middle" font-weight="bold" stroke="#111" stroke-width="0.25">120</text>
<text x="588.47" y="713.7" font-size="11" text-anchor="middle" font-weight="bold" stroke="#111" stroke-width="0.25">150</text>
<text x="625.89" y="713.7" font-size="11" text-anchor="middle" font-weight="bold" stroke="#111" stroke-width="0.25">180</text>
<text x="663.3" y="713.7" font-size="11" text-anchor="middle" font-weight="bold" stroke="#111" stroke-width="0.25">210</text>
<text x="397" y="702.73" font-size="11" text-anchor="end" font-weight="bold" stroke="#111" stroke-width="0.25">0</text>
<text x="397" y="680.2" font-size="11" text-anchor="end" font-weight="bold" stroke="#111" stroke-width="0.25">0.2</text>
<text x="397" y="657.67" font-size="11" text-anchor="end" font-weight="bold" stroke="#111" stroke-width="0.25">0.4</text>
<text x="397" y="635.14" font-size="11" text-anchor="end" font-weight="bold" stroke="#111" stroke-width="0.25">0.6</text>
<text x="397" y="612.62" font-size="11" text-anchor="end" font-weight="bold" stroke="#111" stroke-width="0.25">0.8</text>
<text x="397" y="590.09" font-size="11" text-anchor="end" font-weight="bold" stroke="#111" stroke-width="0.25">1</text>
<text x="397" y="567.56" font-size="11" text-anchor="end" font-weight="bold" stroke="#111" stroke-width="0.25">1.2</text>
<text x="667.5" y="702.73" font-size="11" text-anchor="start" font-weight="bold" stroke="#111" stroke-width="0.25">0</text>
<text x="667.5" y="676.45" font-size="11" text-anchor="start" font-weight="bold" stroke="#111" stroke-width="0.25">20</text>
<text x="667.5" y="650.16" font-size="11" text-anchor="start" font-weight="bold" stroke="#111" stroke-width="0.25">40</text>
<text x="667.5" y="623.88" font-size="11" text-anchor="start" font-weight="bold" stroke="#111" stroke-width="0.25">60</text>
<text x="667.5" y="597.6" font-size="11" text-anchor="start" font-weight="bold" stroke="#111" stroke-width="0.25">80</text>
<text x="667.5" y="571.31" font-size="11" text-anchor="start" font-weight="bold" stroke="#111" stroke-width="0.25">100</text>
<text x="667.5" y="545.03" font-size="11" text-anchor="start" font-weight="bold" stroke="#111" stroke-width="0.25">120</text>
<text x="532.35" y="728.5" font-size="12.4" text-anchor="middle" font-weight="bold" stroke="#111" stroke-width="0.25">X (m)</text>
<text x="377.1" y="621.25" font-size="12.4" text-anchor="middle" font-weight="bold" stroke="#111" stroke-width="0.25" transform="rotate(-90 377.1 621.25)">Iteration error (rad)</text>
<text x="697.2" y="621.25" font-size="12.4" text-anchor="middle" font-weight="bold" stroke="#111" stroke-width="0.25" transform="rotate(-90 697.2 621.25)">Iteration error (Nm)</text>
<text x="532" y="757" font-size="23.5" text-anchor="middle" stroke="#111" stroke-width="0.2">(f)</text>
<rect x="407.9" y="548.2" width="93.6" height="25.2" fill="#fff" stroke="#2c2c2c" stroke-width="1.05"/>
<path d="M410.2 554.9H434.4" stroke="#ff1e28" stroke-width="1.6"/>
<text x="437" y="558.8" font-size="9.9" text-anchor="start" font-weight="bold" stroke="#111" stroke-width="0.25" letter-spacing="0.115">Steering agent</text>
<path d="M410.2 567H434.4" stroke="#1e82ff" stroke-width="1.5" stroke-dasharray="4 3.1 5.5 3.1 5.5 9"/>
<text x="437" y="570.2" font-size="9.9" text-anchor="start" font-weight="bold" stroke="#111" stroke-width="0.25" letter-spacing="0.115">DYC agent</text>
<text x="402.1" y="540.1" font-size="13.5" text-anchor="start" stroke="#111" stroke-width="0.3">×</text>
<text x="411.4" y="538.8" font-size="11" text-anchor="start" font-weight="bold" stroke="#111" stroke-width="0.25">10</text>
<text x="422.4" y="533.7" font-size="8.8" text-anchor="start" font-weight="bold" stroke="#111" stroke-width="0.25">-3</text>
</svg>
</body>
</html>
